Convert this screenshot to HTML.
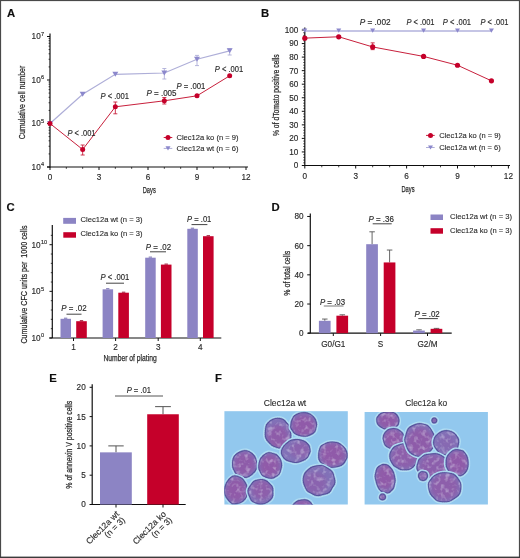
<!DOCTYPE html><html><head><meta charset="utf-8"><style>html,body{margin:0;padding:0;background:#fff;width:520px;height:558px;overflow:hidden}</style></head><body><svg width="520" height="558" viewBox="0 0 520 558" style="display:block">
<defs><filter id="soft" x="0" y="0" width="520" height="558" filterUnits="userSpaceOnUse"><feGaussianBlur stdDeviation="0.3"/></filter></defs>
<g filter="url(#soft)" style='font-family:"Liberation Sans", sans-serif'>
<rect x="0.00" y="0.00" width="520.00" height="558.00" fill="#fff"/>
<rect x="0.00" y="0.00" width="520.00" height="1.10" fill="#4a4a4a"/>
<rect x="0.00" y="0.00" width="1.10" height="558.00" fill="#4a4a4a"/>
<rect x="518.90" y="0.00" width="1.10" height="558.00" fill="#4a4a4a"/>
<rect x="0.00" y="556.60" width="520.00" height="1.40" fill="#3a3a3a"/>
<text x="7.00" y="16.60" font-size="11.3" text-anchor="start" fill="#111" font-weight="bold" stroke="#111" stroke-width="0.15">A</text>
<text x="260.90" y="16.50" font-size="11.3" text-anchor="start" fill="#111" font-weight="bold" stroke="#111" stroke-width="0.15">B</text>
<text x="6.50" y="210.80" font-size="11.3" text-anchor="start" fill="#111" font-weight="bold" stroke="#111" stroke-width="0.15">C</text>
<text x="271.60" y="210.60" font-size="11.3" text-anchor="start" fill="#111" font-weight="bold" stroke="#111" stroke-width="0.15">D</text>
<text x="49.30" y="381.50" font-size="11.3" text-anchor="start" fill="#111" font-weight="bold" stroke="#111" stroke-width="0.15">E</text>
<text x="215.00" y="381.50" font-size="11.3" text-anchor="start" fill="#111" font-weight="bold" stroke="#111" stroke-width="0.15">F</text>
<line x1="50.00" y1="33.50" x2="50.00" y2="167.50" stroke="#111" stroke-width="1.2"/>
<line x1="47.00" y1="167.00" x2="248.00" y2="167.00" stroke="#111" stroke-width="1.2"/>
<line x1="47.00" y1="167.00" x2="50.00" y2="167.00" stroke="#111" stroke-width="1"/>
<text x="40.70" y="169.90" font-size="8.2" text-anchor="end" fill="#2a2a2a" font-weight="normal" stroke="#2a2a2a" stroke-width="0.15">10</text>
<text x="41.10" y="166.40" font-size="5.6" text-anchor="start" fill="#2a2a2a" font-weight="normal" stroke="#2a2a2a" stroke-width="0.15">4</text>
<line x1="48.60" y1="153.91" x2="50.00" y2="153.91" stroke="#111" stroke-width="0.8"/>
<line x1="48.60" y1="146.25" x2="50.00" y2="146.25" stroke="#111" stroke-width="0.8"/>
<line x1="48.60" y1="140.81" x2="50.00" y2="140.81" stroke="#111" stroke-width="0.8"/>
<line x1="48.60" y1="136.59" x2="50.00" y2="136.59" stroke="#111" stroke-width="0.8"/>
<line x1="48.60" y1="133.15" x2="50.00" y2="133.15" stroke="#111" stroke-width="0.8"/>
<line x1="48.60" y1="130.24" x2="50.00" y2="130.24" stroke="#111" stroke-width="0.8"/>
<line x1="48.60" y1="127.72" x2="50.00" y2="127.72" stroke="#111" stroke-width="0.8"/>
<line x1="48.60" y1="125.49" x2="50.00" y2="125.49" stroke="#111" stroke-width="0.8"/>
<line x1="47.00" y1="123.50" x2="50.00" y2="123.50" stroke="#111" stroke-width="1"/>
<text x="40.70" y="126.40" font-size="8.2" text-anchor="end" fill="#2a2a2a" font-weight="normal" stroke="#2a2a2a" stroke-width="0.15">10</text>
<text x="41.10" y="122.90" font-size="5.6" text-anchor="start" fill="#2a2a2a" font-weight="normal" stroke="#2a2a2a" stroke-width="0.15">5</text>
<line x1="48.60" y1="110.41" x2="50.00" y2="110.41" stroke="#111" stroke-width="0.8"/>
<line x1="48.60" y1="102.75" x2="50.00" y2="102.75" stroke="#111" stroke-width="0.8"/>
<line x1="48.60" y1="97.31" x2="50.00" y2="97.31" stroke="#111" stroke-width="0.8"/>
<line x1="48.60" y1="93.09" x2="50.00" y2="93.09" stroke="#111" stroke-width="0.8"/>
<line x1="48.60" y1="89.65" x2="50.00" y2="89.65" stroke="#111" stroke-width="0.8"/>
<line x1="48.60" y1="86.74" x2="50.00" y2="86.74" stroke="#111" stroke-width="0.8"/>
<line x1="48.60" y1="84.22" x2="50.00" y2="84.22" stroke="#111" stroke-width="0.8"/>
<line x1="48.60" y1="81.99" x2="50.00" y2="81.99" stroke="#111" stroke-width="0.8"/>
<line x1="47.00" y1="80.00" x2="50.00" y2="80.00" stroke="#111" stroke-width="1"/>
<text x="40.70" y="82.90" font-size="8.2" text-anchor="end" fill="#2a2a2a" font-weight="normal" stroke="#2a2a2a" stroke-width="0.15">10</text>
<text x="41.10" y="79.40" font-size="5.6" text-anchor="start" fill="#2a2a2a" font-weight="normal" stroke="#2a2a2a" stroke-width="0.15">6</text>
<line x1="48.60" y1="66.91" x2="50.00" y2="66.91" stroke="#111" stroke-width="0.8"/>
<line x1="48.60" y1="59.25" x2="50.00" y2="59.25" stroke="#111" stroke-width="0.8"/>
<line x1="48.60" y1="53.81" x2="50.00" y2="53.81" stroke="#111" stroke-width="0.8"/>
<line x1="48.60" y1="49.59" x2="50.00" y2="49.59" stroke="#111" stroke-width="0.8"/>
<line x1="48.60" y1="46.15" x2="50.00" y2="46.15" stroke="#111" stroke-width="0.8"/>
<line x1="48.60" y1="43.24" x2="50.00" y2="43.24" stroke="#111" stroke-width="0.8"/>
<line x1="48.60" y1="40.72" x2="50.00" y2="40.72" stroke="#111" stroke-width="0.8"/>
<line x1="48.60" y1="38.49" x2="50.00" y2="38.49" stroke="#111" stroke-width="0.8"/>
<line x1="47.00" y1="36.50" x2="50.00" y2="36.50" stroke="#111" stroke-width="1"/>
<text x="40.70" y="39.40" font-size="8.2" text-anchor="end" fill="#2a2a2a" font-weight="normal" stroke="#2a2a2a" stroke-width="0.15">10</text>
<text x="41.10" y="35.90" font-size="5.6" text-anchor="start" fill="#2a2a2a" font-weight="normal" stroke="#2a2a2a" stroke-width="0.15">7</text>
<line x1="50.00" y1="167.00" x2="50.00" y2="170.00" stroke="#111" stroke-width="1"/>
<text x="50.00" y="180.10" font-size="8.2" text-anchor="middle" fill="#2a2a2a" font-weight="normal" stroke="#2a2a2a" stroke-width="0.15">0</text>
<line x1="66.33" y1="167.00" x2="66.33" y2="168.80" stroke="#111" stroke-width="0.8"/>
<line x1="82.67" y1="167.00" x2="82.67" y2="168.80" stroke="#111" stroke-width="0.8"/>
<line x1="99.00" y1="167.00" x2="99.00" y2="170.00" stroke="#111" stroke-width="1"/>
<text x="99.00" y="180.10" font-size="8.2" text-anchor="middle" fill="#2a2a2a" font-weight="normal" stroke="#2a2a2a" stroke-width="0.15">3</text>
<line x1="115.33" y1="167.00" x2="115.33" y2="168.80" stroke="#111" stroke-width="0.8"/>
<line x1="131.67" y1="167.00" x2="131.67" y2="168.80" stroke="#111" stroke-width="0.8"/>
<line x1="148.00" y1="167.00" x2="148.00" y2="170.00" stroke="#111" stroke-width="1"/>
<text x="148.00" y="180.10" font-size="8.2" text-anchor="middle" fill="#2a2a2a" font-weight="normal" stroke="#2a2a2a" stroke-width="0.15">6</text>
<line x1="164.33" y1="167.00" x2="164.33" y2="168.80" stroke="#111" stroke-width="0.8"/>
<line x1="180.67" y1="167.00" x2="180.67" y2="168.80" stroke="#111" stroke-width="0.8"/>
<line x1="197.00" y1="167.00" x2="197.00" y2="170.00" stroke="#111" stroke-width="1"/>
<text x="197.00" y="180.10" font-size="8.2" text-anchor="middle" fill="#2a2a2a" font-weight="normal" stroke="#2a2a2a" stroke-width="0.15">9</text>
<line x1="213.33" y1="167.00" x2="213.33" y2="168.80" stroke="#111" stroke-width="0.8"/>
<line x1="229.67" y1="167.00" x2="229.67" y2="168.80" stroke="#111" stroke-width="0.8"/>
<line x1="246.00" y1="167.00" x2="246.00" y2="170.00" stroke="#111" stroke-width="1"/>
<text x="246.00" y="180.10" font-size="8.2" text-anchor="middle" fill="#2a2a2a" font-weight="normal" stroke="#2a2a2a" stroke-width="0.15">12</text>
<text x="142.75" y="193.30" font-size="9.6" fill="#2a2a2a" font-weight="normal" textLength="13.00" lengthAdjust="spacingAndGlyphs" xml:space="preserve" stroke="#2a2a2a" stroke-width="0.25">Days</text>
<text transform="translate(25.20,139.15) rotate(-90)" x="0" y="0" font-size="9.6" fill="#2a2a2a" font-weight="normal" textLength="73.50" lengthAdjust="spacingAndGlyphs" xml:space="preserve" stroke="#2a2a2a" stroke-width="0.25">Cumulative cell number</text>
<polyline fill="none" stroke="#aeaed8" stroke-width="1.2" points="50.00,123.50 82.67,94.20 115.33,74.30 164.33,73.00 197.00,59.20 229.67,50.80"/>
<path d="M47.00,120.95 L53.00,120.95 L50.00,126.05 Z" fill="#8c88cc"/>
<path d="M79.67,91.65 L85.67,91.65 L82.67,96.75 Z" fill="#8c88cc"/>
<path d="M112.33,71.75 L118.33,71.75 L115.33,76.85 Z" fill="#8c88cc"/>
<line x1="164.33" y1="68.50" x2="164.33" y2="79.00" stroke="#aeaed8" stroke-width="0.9"/>
<line x1="162.33" y1="68.50" x2="166.33" y2="68.50" stroke="#aeaed8" stroke-width="0.9"/>
<line x1="162.33" y1="79.00" x2="166.33" y2="79.00" stroke="#aeaed8" stroke-width="0.9"/>
<path d="M161.33,70.45 L167.33,70.45 L164.33,75.55 Z" fill="#8c88cc"/>
<line x1="197.00" y1="55.40" x2="197.00" y2="65.60" stroke="#aeaed8" stroke-width="0.9"/>
<line x1="195.00" y1="55.40" x2="199.00" y2="55.40" stroke="#aeaed8" stroke-width="0.9"/>
<line x1="195.00" y1="65.60" x2="199.00" y2="65.60" stroke="#aeaed8" stroke-width="0.9"/>
<path d="M194.00,56.65 L200.00,56.65 L197.00,61.75 Z" fill="#8c88cc"/>
<line x1="229.67" y1="48.70" x2="229.67" y2="55.00" stroke="#aeaed8" stroke-width="0.9"/>
<line x1="227.67" y1="48.70" x2="231.67" y2="48.70" stroke="#aeaed8" stroke-width="0.9"/>
<line x1="227.67" y1="55.00" x2="231.67" y2="55.00" stroke="#aeaed8" stroke-width="0.9"/>
<path d="M226.67,48.25 L232.67,48.25 L229.67,53.35 Z" fill="#8c88cc"/>
<polyline fill="none" stroke="#c8203c" stroke-width="1" points="50.00,123.50 82.67,149.50 115.33,106.80 164.33,100.80 197.00,95.80 229.67,75.80"/>
<circle cx="50.00" cy="123.50" r="2.5" fill="#c5002b"/>
<line x1="82.67" y1="145.00" x2="82.67" y2="155.00" stroke="#c8203c" stroke-width="0.9"/>
<line x1="80.67" y1="145.00" x2="84.67" y2="145.00" stroke="#c8203c" stroke-width="0.9"/>
<line x1="80.67" y1="155.00" x2="84.67" y2="155.00" stroke="#c8203c" stroke-width="0.9"/>
<circle cx="82.67" cy="149.50" r="2.5" fill="#c5002b"/>
<line x1="115.33" y1="102.00" x2="115.33" y2="113.80" stroke="#c8203c" stroke-width="0.9"/>
<line x1="113.33" y1="102.00" x2="117.33" y2="102.00" stroke="#c8203c" stroke-width="0.9"/>
<line x1="113.33" y1="113.80" x2="117.33" y2="113.80" stroke="#c8203c" stroke-width="0.9"/>
<circle cx="115.33" cy="106.80" r="2.5" fill="#c5002b"/>
<line x1="164.33" y1="97.50" x2="164.33" y2="104.00" stroke="#c8203c" stroke-width="0.9"/>
<line x1="162.33" y1="97.50" x2="166.33" y2="97.50" stroke="#c8203c" stroke-width="0.9"/>
<line x1="162.33" y1="104.00" x2="166.33" y2="104.00" stroke="#c8203c" stroke-width="0.9"/>
<circle cx="164.33" cy="100.80" r="2.5" fill="#c5002b"/>
<circle cx="197.00" cy="95.80" r="2.5" fill="#c5002b"/>
<circle cx="229.67" cy="75.80" r="2.5" fill="#c5002b"/>
<text x="67.45" y="136.40" font-size="8.4" fill="#2a2a2a" font-weight="normal" textLength="28.10" lengthAdjust="spacingAndGlyphs" xml:space="preserve" stroke="#2a2a2a" stroke-width="0.15"><tspan font-style="italic">P</tspan> &lt; .001</text>
<text x="100.45" y="98.80" font-size="8.4" fill="#2a2a2a" font-weight="normal" textLength="28.60" lengthAdjust="spacingAndGlyphs" xml:space="preserve" stroke="#2a2a2a" stroke-width="0.15"><tspan font-style="italic">P</tspan> &lt; .001</text>
<text x="146.45" y="95.90" font-size="8.4" fill="#2a2a2a" font-weight="normal" textLength="30.10" lengthAdjust="spacingAndGlyphs" xml:space="preserve" stroke="#2a2a2a" stroke-width="0.15"><tspan font-style="italic">P</tspan> = .005</text>
<text x="176.45" y="89.00" font-size="8.4" fill="#2a2a2a" font-weight="normal" textLength="28.90" lengthAdjust="spacingAndGlyphs" xml:space="preserve" stroke="#2a2a2a" stroke-width="0.15"><tspan font-style="italic">P</tspan> = .001</text>
<text x="214.85" y="72.30" font-size="8.4" fill="#2a2a2a" font-weight="normal" textLength="28.40" lengthAdjust="spacingAndGlyphs" xml:space="preserve" stroke="#2a2a2a" stroke-width="0.15"><tspan font-style="italic">P</tspan> &lt; .001</text>
<line x1="163.70" y1="137.50" x2="172.30" y2="137.50" stroke="#c8203c" stroke-width="1"/>
<circle cx="168.00" cy="137.50" r="2.5" fill="#c5002b"/>
<text x="176.45" y="140.00" font-size="8.1" fill="#2a2a2a" font-weight="normal" textLength="62.10" lengthAdjust="spacingAndGlyphs" xml:space="preserve" stroke="#2a2a2a" stroke-width="0.12">Clec12a ko (n = 9)</text>
<line x1="163.70" y1="148.40" x2="172.30" y2="148.40" stroke="#aeaed8" stroke-width="1"/>
<path d="M165.50,146.28 L170.50,146.28 L168.00,150.53 Z" fill="#8c88cc"/>
<text x="176.45" y="151.40" font-size="8.1" fill="#2a2a2a" font-weight="normal" textLength="62.10" lengthAdjust="spacingAndGlyphs" xml:space="preserve" stroke="#2a2a2a" stroke-width="0.12">Clec12a wt (n = 6)</text>
<line x1="304.80" y1="27.50" x2="304.80" y2="165.90" stroke="#111" stroke-width="1.2"/>
<line x1="302.00" y1="165.50" x2="510.00" y2="165.50" stroke="#111" stroke-width="1.2"/>
<line x1="301.80" y1="165.50" x2="304.80" y2="165.50" stroke="#111" stroke-width="1"/>
<text x="298.30" y="168.40" font-size="8.2" text-anchor="end" fill="#2a2a2a" font-weight="normal" stroke="#2a2a2a" stroke-width="0.15">0</text>
<line x1="301.80" y1="151.95" x2="304.80" y2="151.95" stroke="#111" stroke-width="1"/>
<text x="298.30" y="154.85" font-size="8.2" text-anchor="end" fill="#2a2a2a" font-weight="normal" stroke="#2a2a2a" stroke-width="0.15">10</text>
<line x1="301.80" y1="138.40" x2="304.80" y2="138.40" stroke="#111" stroke-width="1"/>
<text x="298.30" y="141.30" font-size="8.2" text-anchor="end" fill="#2a2a2a" font-weight="normal" stroke="#2a2a2a" stroke-width="0.15">20</text>
<line x1="301.80" y1="124.85" x2="304.80" y2="124.85" stroke="#111" stroke-width="1"/>
<text x="298.30" y="127.75" font-size="8.2" text-anchor="end" fill="#2a2a2a" font-weight="normal" stroke="#2a2a2a" stroke-width="0.15">30</text>
<line x1="301.80" y1="111.30" x2="304.80" y2="111.30" stroke="#111" stroke-width="1"/>
<text x="298.30" y="114.20" font-size="8.2" text-anchor="end" fill="#2a2a2a" font-weight="normal" stroke="#2a2a2a" stroke-width="0.15">40</text>
<line x1="301.80" y1="97.75" x2="304.80" y2="97.75" stroke="#111" stroke-width="1"/>
<text x="298.30" y="100.65" font-size="8.2" text-anchor="end" fill="#2a2a2a" font-weight="normal" stroke="#2a2a2a" stroke-width="0.15">50</text>
<line x1="301.80" y1="84.20" x2="304.80" y2="84.20" stroke="#111" stroke-width="1"/>
<text x="298.30" y="87.10" font-size="8.2" text-anchor="end" fill="#2a2a2a" font-weight="normal" stroke="#2a2a2a" stroke-width="0.15">60</text>
<line x1="301.80" y1="70.65" x2="304.80" y2="70.65" stroke="#111" stroke-width="1"/>
<text x="298.30" y="73.55" font-size="8.2" text-anchor="end" fill="#2a2a2a" font-weight="normal" stroke="#2a2a2a" stroke-width="0.15">70</text>
<line x1="301.80" y1="57.10" x2="304.80" y2="57.10" stroke="#111" stroke-width="1"/>
<text x="298.30" y="60.00" font-size="8.2" text-anchor="end" fill="#2a2a2a" font-weight="normal" stroke="#2a2a2a" stroke-width="0.15">80</text>
<line x1="301.80" y1="43.55" x2="304.80" y2="43.55" stroke="#111" stroke-width="1"/>
<text x="298.30" y="46.45" font-size="8.2" text-anchor="end" fill="#2a2a2a" font-weight="normal" stroke="#2a2a2a" stroke-width="0.15">90</text>
<line x1="301.80" y1="30.00" x2="304.80" y2="30.00" stroke="#111" stroke-width="1"/>
<text x="298.30" y="32.90" font-size="8.2" text-anchor="end" fill="#2a2a2a" font-weight="normal" stroke="#2a2a2a" stroke-width="0.15">100</text>
<line x1="303.30" y1="162.79" x2="304.80" y2="162.79" stroke="#111" stroke-width="0.8"/>
<line x1="303.30" y1="160.08" x2="304.80" y2="160.08" stroke="#111" stroke-width="0.8"/>
<line x1="303.30" y1="157.37" x2="304.80" y2="157.37" stroke="#111" stroke-width="0.8"/>
<line x1="303.30" y1="154.66" x2="304.80" y2="154.66" stroke="#111" stroke-width="0.8"/>
<line x1="303.30" y1="149.24" x2="304.80" y2="149.24" stroke="#111" stroke-width="0.8"/>
<line x1="303.30" y1="146.53" x2="304.80" y2="146.53" stroke="#111" stroke-width="0.8"/>
<line x1="303.30" y1="143.82" x2="304.80" y2="143.82" stroke="#111" stroke-width="0.8"/>
<line x1="303.30" y1="141.11" x2="304.80" y2="141.11" stroke="#111" stroke-width="0.8"/>
<line x1="303.30" y1="135.69" x2="304.80" y2="135.69" stroke="#111" stroke-width="0.8"/>
<line x1="303.30" y1="132.98" x2="304.80" y2="132.98" stroke="#111" stroke-width="0.8"/>
<line x1="303.30" y1="130.27" x2="304.80" y2="130.27" stroke="#111" stroke-width="0.8"/>
<line x1="303.30" y1="127.56" x2="304.80" y2="127.56" stroke="#111" stroke-width="0.8"/>
<line x1="303.30" y1="122.14" x2="304.80" y2="122.14" stroke="#111" stroke-width="0.8"/>
<line x1="303.30" y1="119.43" x2="304.80" y2="119.43" stroke="#111" stroke-width="0.8"/>
<line x1="303.30" y1="116.72" x2="304.80" y2="116.72" stroke="#111" stroke-width="0.8"/>
<line x1="303.30" y1="114.01" x2="304.80" y2="114.01" stroke="#111" stroke-width="0.8"/>
<line x1="303.30" y1="108.59" x2="304.80" y2="108.59" stroke="#111" stroke-width="0.8"/>
<line x1="303.30" y1="105.88" x2="304.80" y2="105.88" stroke="#111" stroke-width="0.8"/>
<line x1="303.30" y1="103.17" x2="304.80" y2="103.17" stroke="#111" stroke-width="0.8"/>
<line x1="303.30" y1="100.46" x2="304.80" y2="100.46" stroke="#111" stroke-width="0.8"/>
<line x1="303.30" y1="95.04" x2="304.80" y2="95.04" stroke="#111" stroke-width="0.8"/>
<line x1="303.30" y1="92.33" x2="304.80" y2="92.33" stroke="#111" stroke-width="0.8"/>
<line x1="303.30" y1="89.62" x2="304.80" y2="89.62" stroke="#111" stroke-width="0.8"/>
<line x1="303.30" y1="86.91" x2="304.80" y2="86.91" stroke="#111" stroke-width="0.8"/>
<line x1="303.30" y1="81.49" x2="304.80" y2="81.49" stroke="#111" stroke-width="0.8"/>
<line x1="303.30" y1="78.78" x2="304.80" y2="78.78" stroke="#111" stroke-width="0.8"/>
<line x1="303.30" y1="76.07" x2="304.80" y2="76.07" stroke="#111" stroke-width="0.8"/>
<line x1="303.30" y1="73.36" x2="304.80" y2="73.36" stroke="#111" stroke-width="0.8"/>
<line x1="303.30" y1="67.94" x2="304.80" y2="67.94" stroke="#111" stroke-width="0.8"/>
<line x1="303.30" y1="65.23" x2="304.80" y2="65.23" stroke="#111" stroke-width="0.8"/>
<line x1="303.30" y1="62.52" x2="304.80" y2="62.52" stroke="#111" stroke-width="0.8"/>
<line x1="303.30" y1="59.81" x2="304.80" y2="59.81" stroke="#111" stroke-width="0.8"/>
<line x1="303.30" y1="54.39" x2="304.80" y2="54.39" stroke="#111" stroke-width="0.8"/>
<line x1="303.30" y1="51.68" x2="304.80" y2="51.68" stroke="#111" stroke-width="0.8"/>
<line x1="303.30" y1="48.97" x2="304.80" y2="48.97" stroke="#111" stroke-width="0.8"/>
<line x1="303.30" y1="46.26" x2="304.80" y2="46.26" stroke="#111" stroke-width="0.8"/>
<line x1="303.30" y1="40.84" x2="304.80" y2="40.84" stroke="#111" stroke-width="0.8"/>
<line x1="303.30" y1="38.13" x2="304.80" y2="38.13" stroke="#111" stroke-width="0.8"/>
<line x1="303.30" y1="35.42" x2="304.80" y2="35.42" stroke="#111" stroke-width="0.8"/>
<line x1="303.30" y1="32.71" x2="304.80" y2="32.71" stroke="#111" stroke-width="0.8"/>
<line x1="304.80" y1="165.50" x2="304.80" y2="168.50" stroke="#111" stroke-width="1"/>
<text x="304.80" y="179.10" font-size="8.2" text-anchor="middle" fill="#2a2a2a" font-weight="normal" stroke="#2a2a2a" stroke-width="0.15">0</text>
<line x1="321.77" y1="165.50" x2="321.77" y2="167.30" stroke="#111" stroke-width="0.8"/>
<line x1="338.73" y1="165.50" x2="338.73" y2="167.30" stroke="#111" stroke-width="0.8"/>
<line x1="355.70" y1="165.50" x2="355.70" y2="168.50" stroke="#111" stroke-width="1"/>
<text x="355.70" y="179.10" font-size="8.2" text-anchor="middle" fill="#2a2a2a" font-weight="normal" stroke="#2a2a2a" stroke-width="0.15">3</text>
<line x1="372.67" y1="165.50" x2="372.67" y2="167.30" stroke="#111" stroke-width="0.8"/>
<line x1="389.63" y1="165.50" x2="389.63" y2="167.30" stroke="#111" stroke-width="0.8"/>
<line x1="406.60" y1="165.50" x2="406.60" y2="168.50" stroke="#111" stroke-width="1"/>
<text x="406.60" y="179.10" font-size="8.2" text-anchor="middle" fill="#2a2a2a" font-weight="normal" stroke="#2a2a2a" stroke-width="0.15">6</text>
<line x1="423.57" y1="165.50" x2="423.57" y2="167.30" stroke="#111" stroke-width="0.8"/>
<line x1="440.53" y1="165.50" x2="440.53" y2="167.30" stroke="#111" stroke-width="0.8"/>
<line x1="457.50" y1="165.50" x2="457.50" y2="168.50" stroke="#111" stroke-width="1"/>
<text x="457.50" y="179.10" font-size="8.2" text-anchor="middle" fill="#2a2a2a" font-weight="normal" stroke="#2a2a2a" stroke-width="0.15">9</text>
<line x1="474.47" y1="165.50" x2="474.47" y2="167.30" stroke="#111" stroke-width="0.8"/>
<line x1="491.43" y1="165.50" x2="491.43" y2="167.30" stroke="#111" stroke-width="0.8"/>
<line x1="508.40" y1="165.50" x2="508.40" y2="168.50" stroke="#111" stroke-width="1"/>
<text x="508.40" y="179.10" font-size="8.2" text-anchor="middle" fill="#2a2a2a" font-weight="normal" stroke="#2a2a2a" stroke-width="0.15">12</text>
<text x="401.45" y="192.30" font-size="9.6" fill="#2a2a2a" font-weight="normal" textLength="13.10" lengthAdjust="spacingAndGlyphs" xml:space="preserve" stroke="#2a2a2a" stroke-width="0.25">Days</text>
<text transform="translate(278.80,136.05) rotate(-90)" x="0" y="0" font-size="9.4" fill="#2a2a2a" font-weight="normal" textLength="81.80" lengthAdjust="spacingAndGlyphs" xml:space="preserve" stroke="#2a2a2a" stroke-width="0.25">% of dTomato positive cells</text>
<polyline fill="none" stroke="#b2b2dc" stroke-width="1.6" points="304.80,31 338.73,31 372.67,31 423.57,31 457.50,31 491.43,31"/>
<path d="M302.30,28.48 L307.30,28.48 L304.80,32.73 Z" fill="#8c88cc"/>
<path d="M336.23,28.48 L341.23,28.48 L338.73,32.73 Z" fill="#8c88cc"/>
<path d="M370.17,28.48 L375.17,28.48 L372.67,32.73 Z" fill="#8c88cc"/>
<path d="M421.07,28.48 L426.07,28.48 L423.57,32.73 Z" fill="#8c88cc"/>
<path d="M455.00,28.48 L460.00,28.48 L457.50,32.73 Z" fill="#8c88cc"/>
<path d="M488.93,28.48 L493.93,28.48 L491.43,32.73 Z" fill="#8c88cc"/>
<polyline fill="none" stroke="#c8203c" stroke-width="1" points="304.80,38.13 338.73,36.78 372.67,46.94 423.57,56.42 457.50,65.23 491.43,80.81"/>
<circle cx="304.80" cy="38.13" r="2.6" fill="#c5002b"/>
<circle cx="338.73" cy="36.78" r="2.6" fill="#c5002b"/>
<line x1="372.67" y1="42.87" x2="372.67" y2="49.65" stroke="#c8203c" stroke-width="0.9"/>
<line x1="370.67" y1="42.87" x2="374.67" y2="42.87" stroke="#c8203c" stroke-width="0.9"/>
<line x1="370.67" y1="49.65" x2="374.67" y2="49.65" stroke="#c8203c" stroke-width="0.9"/>
<circle cx="372.67" cy="46.94" r="2.6" fill="#c5002b"/>
<circle cx="423.57" cy="56.42" r="2.6" fill="#c5002b"/>
<circle cx="457.50" cy="65.23" r="2.6" fill="#c5002b"/>
<circle cx="491.43" cy="80.81" r="2.6" fill="#c5002b"/>
<text x="359.65" y="25.40" font-size="8.4" fill="#2a2a2a" font-weight="normal" textLength="30.90" lengthAdjust="spacingAndGlyphs" xml:space="preserve" stroke="#2a2a2a" stroke-width="0.15"><tspan font-style="italic">P</tspan> = .002</text>
<text x="406.45" y="25.40" font-size="8.4" fill="#2a2a2a" font-weight="normal" textLength="28.10" lengthAdjust="spacingAndGlyphs" xml:space="preserve" stroke="#2a2a2a" stroke-width="0.15"><tspan font-style="italic">P</tspan> &lt; .001</text>
<text x="442.75" y="25.40" font-size="8.4" fill="#2a2a2a" font-weight="normal" textLength="28.30" lengthAdjust="spacingAndGlyphs" xml:space="preserve" stroke="#2a2a2a" stroke-width="0.15"><tspan font-style="italic">P</tspan> &lt; .001</text>
<text x="480.45" y="25.40" font-size="8.4" fill="#2a2a2a" font-weight="normal" textLength="28.00" lengthAdjust="spacingAndGlyphs" xml:space="preserve" stroke="#2a2a2a" stroke-width="0.15"><tspan font-style="italic">P</tspan> &lt; .001</text>
<line x1="426.00" y1="135.40" x2="434.70" y2="135.40" stroke="#c8203c" stroke-width="1"/>
<circle cx="430.50" cy="135.40" r="2.5" fill="#c5002b"/>
<text x="439.15" y="138.10" font-size="8.1" fill="#2a2a2a" font-weight="normal" textLength="61.70" lengthAdjust="spacingAndGlyphs" xml:space="preserve" stroke="#2a2a2a" stroke-width="0.12">Clec12a ko (n = 9)</text>
<line x1="426.00" y1="147.50" x2="434.70" y2="147.50" stroke="#aeaed8" stroke-width="1"/>
<path d="M428.00,145.38 L433.00,145.38 L430.50,149.62 Z" fill="#8c88cc"/>
<text x="439.15" y="150.40" font-size="8.1" fill="#2a2a2a" font-weight="normal" textLength="61.70" lengthAdjust="spacingAndGlyphs" xml:space="preserve" stroke="#2a2a2a" stroke-width="0.12">Clec12a wt (n = 6)</text>
<line x1="52.30" y1="225.00" x2="52.30" y2="338.00" stroke="#111" stroke-width="1.2"/>
<line x1="49.20" y1="338.00" x2="221.30" y2="338.00" stroke="#111" stroke-width="1.2"/>
<line x1="49.50" y1="338.00" x2="52.30" y2="338.00" stroke="#111" stroke-width="1"/>
<text x="40.50" y="340.90" font-size="8.2" text-anchor="end" fill="#2a2a2a" font-weight="normal" stroke="#2a2a2a" stroke-width="0.15">10</text>
<text x="40.90" y="337.40" font-size="5.6" text-anchor="start" fill="#2a2a2a" font-weight="normal" stroke="#2a2a2a" stroke-width="0.15">0</text>
<line x1="50.80" y1="328.67" x2="52.30" y2="328.67" stroke="#111" stroke-width="0.8"/>
<line x1="50.80" y1="319.34" x2="52.30" y2="319.34" stroke="#111" stroke-width="0.8"/>
<line x1="50.80" y1="310.01" x2="52.30" y2="310.01" stroke="#111" stroke-width="0.8"/>
<line x1="50.80" y1="300.68" x2="52.30" y2="300.68" stroke="#111" stroke-width="0.8"/>
<line x1="49.50" y1="291.35" x2="52.30" y2="291.35" stroke="#111" stroke-width="1"/>
<text x="40.50" y="294.25" font-size="8.2" text-anchor="end" fill="#2a2a2a" font-weight="normal" stroke="#2a2a2a" stroke-width="0.15">10</text>
<text x="40.90" y="290.75" font-size="5.6" text-anchor="start" fill="#2a2a2a" font-weight="normal" stroke="#2a2a2a" stroke-width="0.15">5</text>
<line x1="50.80" y1="282.02" x2="52.30" y2="282.02" stroke="#111" stroke-width="0.8"/>
<line x1="50.80" y1="272.69" x2="52.30" y2="272.69" stroke="#111" stroke-width="0.8"/>
<line x1="50.80" y1="263.36" x2="52.30" y2="263.36" stroke="#111" stroke-width="0.8"/>
<line x1="50.80" y1="254.03" x2="52.30" y2="254.03" stroke="#111" stroke-width="0.8"/>
<line x1="49.50" y1="244.70" x2="52.30" y2="244.70" stroke="#111" stroke-width="1"/>
<text x="40.50" y="247.60" font-size="8.2" text-anchor="end" fill="#2a2a2a" font-weight="normal" stroke="#2a2a2a" stroke-width="0.15">10</text>
<text x="40.90" y="244.10" font-size="5.6" text-anchor="start" fill="#2a2a2a" font-weight="normal" stroke="#2a2a2a" stroke-width="0.15">10</text>
<line x1="50.80" y1="235.37" x2="52.30" y2="235.37" stroke="#111" stroke-width="0.8"/>
<line x1="73.50" y1="338.00" x2="73.50" y2="341.00" stroke="#111" stroke-width="1"/>
<text x="73.50" y="349.60" font-size="8.2" text-anchor="middle" fill="#2a2a2a" font-weight="normal" stroke="#2a2a2a" stroke-width="0.15">1</text>
<line x1="115.60" y1="338.00" x2="115.60" y2="341.00" stroke="#111" stroke-width="1"/>
<text x="115.60" y="349.60" font-size="8.2" text-anchor="middle" fill="#2a2a2a" font-weight="normal" stroke="#2a2a2a" stroke-width="0.15">2</text>
<line x1="158.20" y1="338.00" x2="158.20" y2="341.00" stroke="#111" stroke-width="1"/>
<text x="158.20" y="349.60" font-size="8.2" text-anchor="middle" fill="#2a2a2a" font-weight="normal" stroke="#2a2a2a" stroke-width="0.15">3</text>
<line x1="200.30" y1="338.00" x2="200.30" y2="341.00" stroke="#111" stroke-width="1"/>
<text x="200.30" y="349.60" font-size="8.2" text-anchor="middle" fill="#2a2a2a" font-weight="normal" stroke="#2a2a2a" stroke-width="0.15">4</text>
<rect x="60.50" y="318.80" width="10.50" height="19.20" fill="#8c84c4"/>
<rect x="76.20" y="321.20" width="10.60" height="16.80" fill="#c5002b"/>
<line x1="64.00" y1="318.20" x2="67.30" y2="318.20" stroke="#6a62a8" stroke-width="0.9"/>
<line x1="79.80" y1="320.70" x2="83.20" y2="320.70" stroke="#900020" stroke-width="0.9"/>
<rect x="102.60" y="289.30" width="10.50" height="48.70" fill="#8c84c4"/>
<rect x="118.30" y="292.70" width="10.60" height="45.30" fill="#c5002b"/>
<line x1="106.10" y1="288.70" x2="109.40" y2="288.70" stroke="#6a62a8" stroke-width="0.9"/>
<line x1="121.90" y1="292.20" x2="125.30" y2="292.20" stroke="#900020" stroke-width="0.9"/>
<rect x="145.20" y="257.70" width="10.50" height="80.30" fill="#8c84c4"/>
<rect x="160.90" y="264.60" width="10.60" height="73.40" fill="#c5002b"/>
<line x1="148.70" y1="257.10" x2="152.00" y2="257.10" stroke="#6a62a8" stroke-width="0.9"/>
<line x1="164.50" y1="264.10" x2="167.90" y2="264.10" stroke="#900020" stroke-width="0.9"/>
<rect x="187.30" y="228.80" width="10.50" height="109.20" fill="#8c84c4"/>
<rect x="203.00" y="236.20" width="10.60" height="101.80" fill="#c5002b"/>
<line x1="190.80" y1="228.20" x2="194.10" y2="228.20" stroke="#6a62a8" stroke-width="0.9"/>
<line x1="206.60" y1="235.70" x2="210.00" y2="235.70" stroke="#900020" stroke-width="0.9"/>
<text x="61.25" y="310.70" font-size="8.4" fill="#2a2a2a" font-weight="normal" textLength="25.30" lengthAdjust="spacingAndGlyphs" xml:space="preserve" stroke="#2a2a2a" stroke-width="0.15"><tspan font-style="italic">P</tspan> = .02</text>
<line x1="66.50" y1="314.20" x2="81.50" y2="314.20" stroke="#444" stroke-width="1"/>
<text x="100.45" y="280.30" font-size="8.4" fill="#2a2a2a" font-weight="normal" textLength="28.80" lengthAdjust="spacingAndGlyphs" xml:space="preserve" stroke="#2a2a2a" stroke-width="0.15"><tspan font-style="italic">P</tspan> &lt; .001</text>
<line x1="106.00" y1="283.20" x2="124.00" y2="283.20" stroke="#444" stroke-width="1"/>
<text x="145.85" y="249.50" font-size="8.4" fill="#2a2a2a" font-weight="normal" textLength="25.20" lengthAdjust="spacingAndGlyphs" xml:space="preserve" stroke="#2a2a2a" stroke-width="0.15"><tspan font-style="italic">P</tspan> = .02</text>
<line x1="150.00" y1="251.80" x2="166.00" y2="251.80" stroke="#444" stroke-width="1"/>
<text x="187.05" y="221.80" font-size="8.4" fill="#2a2a2a" font-weight="normal" textLength="24.30" lengthAdjust="spacingAndGlyphs" xml:space="preserve" stroke="#2a2a2a" stroke-width="0.15"><tspan font-style="italic">P</tspan> = .01</text>
<line x1="191.50" y1="224.60" x2="207.40" y2="224.60" stroke="#444" stroke-width="1"/>
<rect x="63.20" y="217.90" width="12.80" height="5.90" fill="#8c84c4"/>
<rect x="63.30" y="232.20" width="12.70" height="5.50" fill="#c5002b"/>
<text x="80.45" y="222.40" font-size="8.1" fill="#2a2a2a" font-weight="normal" textLength="62.10" lengthAdjust="spacingAndGlyphs" xml:space="preserve" stroke="#2a2a2a" stroke-width="0.12">Clec12a wt (n = 3)</text>
<text x="80.45" y="236.00" font-size="8.1" fill="#2a2a2a" font-weight="normal" textLength="62.10" lengthAdjust="spacingAndGlyphs" xml:space="preserve" stroke="#2a2a2a" stroke-width="0.12">Clec12a ko (n = 3)</text>
<text x="103.45" y="360.60" font-size="9.4" fill="#2a2a2a" font-weight="normal" textLength="53.30" lengthAdjust="spacingAndGlyphs" xml:space="preserve" stroke="#2a2a2a" stroke-width="0.25">Number of plating</text>
<text transform="translate(27.00,343.55) rotate(-90)" x="0" y="0" font-size="9.4" fill="#2a2a2a" font-weight="normal" textLength="118.10" lengthAdjust="spacingAndGlyphs" xml:space="preserve" stroke="#2a2a2a" stroke-width="0.25">Cumulative CFC units per  1000 cells</text>
<line x1="310.30" y1="213.40" x2="310.30" y2="333.20" stroke="#111" stroke-width="1.2"/>
<line x1="308.00" y1="333.20" x2="451.70" y2="333.20" stroke="#111" stroke-width="1.2"/>
<line x1="307.20" y1="333.20" x2="310.30" y2="333.20" stroke="#111" stroke-width="1"/>
<text x="303.60" y="336.10" font-size="8.2" text-anchor="end" fill="#2a2a2a" font-weight="normal" stroke="#2a2a2a" stroke-width="0.15">0</text>
<line x1="307.20" y1="304.02" x2="310.30" y2="304.02" stroke="#111" stroke-width="1"/>
<text x="303.60" y="306.92" font-size="8.2" text-anchor="end" fill="#2a2a2a" font-weight="normal" stroke="#2a2a2a" stroke-width="0.15">20</text>
<line x1="307.20" y1="274.84" x2="310.30" y2="274.84" stroke="#111" stroke-width="1"/>
<text x="303.60" y="277.74" font-size="8.2" text-anchor="end" fill="#2a2a2a" font-weight="normal" stroke="#2a2a2a" stroke-width="0.15">40</text>
<line x1="307.20" y1="245.66" x2="310.30" y2="245.66" stroke="#111" stroke-width="1"/>
<text x="303.60" y="248.56" font-size="8.2" text-anchor="end" fill="#2a2a2a" font-weight="normal" stroke="#2a2a2a" stroke-width="0.15">60</text>
<line x1="307.20" y1="216.48" x2="310.30" y2="216.48" stroke="#111" stroke-width="1"/>
<text x="303.60" y="219.38" font-size="8.2" text-anchor="end" fill="#2a2a2a" font-weight="normal" stroke="#2a2a2a" stroke-width="0.15">80</text>
<line x1="333.30" y1="333.20" x2="333.30" y2="336.00" stroke="#111" stroke-width="1"/>
<text x="333.30" y="346.70" font-size="8.2" text-anchor="middle" fill="#2a2a2a" font-weight="normal" stroke="#2a2a2a" stroke-width="0.15">G0/G1</text>
<line x1="324.80" y1="319.05" x2="324.80" y2="320.80" stroke="#555" stroke-width="0.9"/>
<line x1="322.05" y1="319.05" x2="327.55" y2="319.05" stroke="#555" stroke-width="0.9"/>
<line x1="342.30" y1="314.82" x2="342.30" y2="315.69" stroke="#555" stroke-width="0.9"/>
<line x1="339.55" y1="314.82" x2="345.05" y2="314.82" stroke="#555" stroke-width="0.9"/>
<rect x="318.90" y="320.80" width="11.70" height="12.40" fill="#8c84c4"/>
<rect x="336.40" y="315.69" width="11.70" height="17.51" fill="#c5002b"/>
<line x1="380.60" y1="333.20" x2="380.60" y2="336.00" stroke="#111" stroke-width="1"/>
<text x="380.60" y="346.70" font-size="8.2" text-anchor="middle" fill="#2a2a2a" font-weight="normal" stroke="#2a2a2a" stroke-width="0.15">S</text>
<line x1="372.10" y1="231.80" x2="372.10" y2="244.20" stroke="#555" stroke-width="0.9"/>
<line x1="369.35" y1="231.80" x2="374.85" y2="231.80" stroke="#555" stroke-width="0.9"/>
<line x1="389.60" y1="250.04" x2="389.60" y2="262.44" stroke="#555" stroke-width="0.9"/>
<line x1="386.85" y1="250.04" x2="392.35" y2="250.04" stroke="#555" stroke-width="0.9"/>
<rect x="366.20" y="244.20" width="11.70" height="89.00" fill="#8c84c4"/>
<rect x="383.70" y="262.44" width="11.70" height="70.76" fill="#c5002b"/>
<line x1="427.50" y1="333.20" x2="427.50" y2="336.00" stroke="#111" stroke-width="1"/>
<text x="427.50" y="346.70" font-size="8.2" text-anchor="middle" fill="#2a2a2a" font-weight="normal" stroke="#2a2a2a" stroke-width="0.15">G2/M</text>
<line x1="419.00" y1="329.84" x2="419.00" y2="330.57" stroke="#555" stroke-width="0.9"/>
<line x1="416.25" y1="329.84" x2="421.75" y2="329.84" stroke="#555" stroke-width="0.9"/>
<line x1="436.50" y1="328.39" x2="436.50" y2="328.82" stroke="#555" stroke-width="0.9"/>
<line x1="433.75" y1="328.39" x2="439.25" y2="328.39" stroke="#555" stroke-width="0.9"/>
<rect x="413.10" y="330.57" width="11.70" height="2.63" fill="#8c84c4"/>
<rect x="430.60" y="328.82" width="11.70" height="4.38" fill="#c5002b"/>
<text x="319.95" y="305.30" font-size="8.4" fill="#2a2a2a" font-weight="normal" textLength="25.10" lengthAdjust="spacingAndGlyphs" xml:space="preserve" stroke="#2a2a2a" stroke-width="0.15"><tspan font-style="italic">P</tspan> = .03</text>
<line x1="323.80" y1="306.00" x2="343.50" y2="306.00" stroke="#666" stroke-width="0.9"/>
<text x="368.45" y="221.60" font-size="8.4" fill="#2a2a2a" font-weight="normal" textLength="25.50" lengthAdjust="spacingAndGlyphs" xml:space="preserve" stroke="#2a2a2a" stroke-width="0.15"><tspan font-style="italic">P</tspan> = .36</text>
<line x1="372.70" y1="223.80" x2="391.70" y2="223.80" stroke="#444" stroke-width="1"/>
<text x="414.45" y="316.60" font-size="8.4" fill="#2a2a2a" font-weight="normal" textLength="25.30" lengthAdjust="spacingAndGlyphs" xml:space="preserve" stroke="#2a2a2a" stroke-width="0.15"><tspan font-style="italic">P</tspan> = .02</text>
<line x1="418.30" y1="318.60" x2="437.90" y2="318.60" stroke="#444" stroke-width="1"/>
<rect x="430.50" y="214.50" width="12.50" height="5.50" fill="#8c84c4"/>
<rect x="430.50" y="228.20" width="12.50" height="5.50" fill="#c5002b"/>
<text x="449.95" y="219.40" font-size="8.1" fill="#2a2a2a" font-weight="normal" textLength="62.10" lengthAdjust="spacingAndGlyphs" xml:space="preserve" stroke="#2a2a2a" stroke-width="0.12">Clec12a wt (n = 3)</text>
<text x="449.95" y="233.10" font-size="8.1" fill="#2a2a2a" font-weight="normal" textLength="62.10" lengthAdjust="spacingAndGlyphs" xml:space="preserve" stroke="#2a2a2a" stroke-width="0.12">Clec12a ko (n = 3)</text>
<text transform="translate(290.20,295.65) rotate(-90)" x="0" y="0" font-size="9.8" fill="#2a2a2a" font-weight="normal" textLength="45.00" lengthAdjust="spacingAndGlyphs" xml:space="preserve" stroke="#2a2a2a" stroke-width="0.25">% of total cells</text>
<line x1="92.20" y1="384.30" x2="92.20" y2="504.50" stroke="#111" stroke-width="1.2"/>
<line x1="89.80" y1="504.50" x2="185.70" y2="504.50" stroke="#111" stroke-width="1.2"/>
<line x1="89.60" y1="504.50" x2="92.20" y2="504.50" stroke="#111" stroke-width="1"/>
<text x="85.70" y="507.40" font-size="8.2" text-anchor="end" fill="#2a2a2a" font-weight="normal" stroke="#2a2a2a" stroke-width="0.15">0</text>
<line x1="89.60" y1="475.20" x2="92.20" y2="475.20" stroke="#111" stroke-width="1"/>
<text x="85.70" y="478.10" font-size="8.2" text-anchor="end" fill="#2a2a2a" font-weight="normal" stroke="#2a2a2a" stroke-width="0.15">5</text>
<line x1="89.60" y1="445.90" x2="92.20" y2="445.90" stroke="#111" stroke-width="1"/>
<text x="85.70" y="448.80" font-size="8.2" text-anchor="end" fill="#2a2a2a" font-weight="normal" stroke="#2a2a2a" stroke-width="0.15">10</text>
<line x1="89.60" y1="416.60" x2="92.20" y2="416.60" stroke="#111" stroke-width="1"/>
<text x="85.70" y="419.50" font-size="8.2" text-anchor="end" fill="#2a2a2a" font-weight="normal" stroke="#2a2a2a" stroke-width="0.15">15</text>
<line x1="89.60" y1="387.30" x2="92.20" y2="387.30" stroke="#111" stroke-width="1"/>
<text x="85.70" y="390.20" font-size="8.2" text-anchor="end" fill="#2a2a2a" font-weight="normal" stroke="#2a2a2a" stroke-width="0.15">20</text>
<line x1="116.00" y1="445.90" x2="116.00" y2="452.35" stroke="#555" stroke-width="1"/>
<line x1="108.30" y1="445.90" x2="123.70" y2="445.90" stroke="#555" stroke-width="1"/>
<line x1="163.00" y1="406.64" x2="163.00" y2="414.26" stroke="#555" stroke-width="1"/>
<line x1="155.10" y1="406.64" x2="170.90" y2="406.64" stroke="#555" stroke-width="1"/>
<rect x="100.00" y="452.35" width="31.80" height="52.15" fill="#8c84c4"/>
<rect x="147.20" y="414.26" width="31.60" height="90.24" fill="#c5002b"/>
<line x1="116.00" y1="504.50" x2="116.00" y2="507.50" stroke="#111" stroke-width="1"/>
<line x1="163.00" y1="504.50" x2="163.00" y2="507.50" stroke="#111" stroke-width="1"/>
<text x="126.65" y="393.30" font-size="8.4" fill="#2a2a2a" font-weight="normal" textLength="24.40" lengthAdjust="spacingAndGlyphs" xml:space="preserve" stroke="#2a2a2a" stroke-width="0.15"><tspan font-style="italic">P</tspan> = .01</text>
<line x1="115.00" y1="396.00" x2="163.00" y2="396.00" stroke="#555" stroke-width="1"/>
<text transform="translate(72.00,488.65) rotate(-90)" x="0" y="0" font-size="9.4" fill="#2a2a2a" font-weight="normal" textLength="87.80" lengthAdjust="spacingAndGlyphs" xml:space="preserve" stroke="#2a2a2a" stroke-width="0.25">% of annexin V positive cells</text>
<g transform="translate(115.50,510.50) rotate(-45)">
<text x="0.00" y="5.80" font-size="8.6" text-anchor="end" fill="#2a2a2a" font-weight="normal" stroke="#2a2a2a" stroke-width="0.15">Clec12a wt</text>
<text x="0.00" y="14.20" font-size="8.6" text-anchor="end" fill="#2a2a2a" font-weight="normal" stroke="#2a2a2a" stroke-width="0.15">(n = 3)</text>
</g>
<g transform="translate(162.50,510.50) rotate(-45)">
<text x="0.00" y="5.80" font-size="8.6" text-anchor="end" fill="#2a2a2a" font-weight="normal" stroke="#2a2a2a" stroke-width="0.15">Clec12a ko</text>
<text x="0.00" y="14.20" font-size="8.6" text-anchor="end" fill="#2a2a2a" font-weight="normal" stroke="#2a2a2a" stroke-width="0.15">(n = 3)</text>
</g>
<text x="263.75" y="406.00" font-size="9.0" fill="#2a2a2a" font-weight="normal" textLength="42.50" lengthAdjust="spacingAndGlyphs" xml:space="preserve" stroke="#2a2a2a" stroke-width="0.12">Clec12a wt</text>
<text x="405.25" y="406.00" font-size="9.0" fill="#2a2a2a" font-weight="normal" textLength="41.80" lengthAdjust="spacingAndGlyphs" xml:space="preserve" stroke="#2a2a2a" stroke-width="0.12">Clec12a ko</text>
<rect x="224.40" y="411.20" width="123.40" height="93.30" fill="#92c8ee"/>
<rect x="364.60" y="412.00" width="123.30" height="92.50" fill="#92c8ee"/>
<defs>
<clipPath id="clL"><rect x="224.4" y="411.2" width="123.4" height="93.3"/></clipPath>
<clipPath id="clR"><rect x="364.6" y="412" width="123.3" height="92.5"/></clipPath>
<filter id="bl1" x="-30%" y="-30%" width="160%" height="160%"><feGaussianBlur stdDeviation="2"/></filter>
<filter id="bl0" x="-20%" y="-20%" width="140%" height="140%"><feGaussianBlur stdDeviation="0.45"/></filter>
<filter id="mot" x="0" y="0" width="100%" height="100%" filterUnits="userSpaceOnUse"><feTurbulence type="fractalNoise" baseFrequency="0.22" numOctaves="2" seed="5" result="n"/><feColorMatrix in="n" type="matrix" values="0 0 0 0 0.80  0 0 0 0 0.82  0 0 0 0 0.92  0 0 0 3.2 -1.55"/></filter>
</defs>
<g clip-path="url(#clL)">
<clipPath id="c100"><path d="M290.59,427.38 Q290.95,429.53 291.43,431.56 Q291.91,433.60 291.92,435.72 Q291.94,437.83 291.26,439.76 Q290.59,441.68 289.54,443.33 Q288.49,444.98 286.97,446.05 Q285.46,447.11 283.88,448.07 Q282.29,449.02 280.45,449.05 Q278.60,449.08 276.83,448.45 Q275.07,447.82 273.32,447.18 Q271.56,446.54 270.23,445.03 Q268.89,443.52 267.35,442.14 Q265.80,440.76 265.00,438.73 Q264.19,436.70 264.21,434.55 Q264.22,432.41 264.40,430.37 Q264.57,428.34 264.96,426.31 Q265.34,424.28 266.65,422.90 Q267.95,421.51 269.32,420.34 Q270.69,419.17 272.30,418.46 Q273.91,417.74 275.66,417.45 Q277.41,417.16 279.24,417.33 Q281.06,417.51 282.88,418.21 Q284.70,418.91 285.96,420.62 Q287.23,422.34 288.72,423.78 Q290.22,425.23 290.59,427.38Z"/></clipPath>
<path d="M291.60,426.95 Q291.98,429.25 292.50,431.43 Q293.01,433.60 293.01,435.86 Q293.02,438.12 292.29,440.18 Q291.56,442.24 290.42,444.01 Q289.28,445.78 287.64,446.92 Q286.01,448.06 284.30,449.09 Q282.59,450.11 280.59,450.15 Q278.60,450.18 276.70,449.52 Q274.79,448.85 272.90,448.17 Q271.01,447.49 269.58,445.88 Q268.14,444.27 266.48,442.80 Q264.82,441.33 263.95,439.16 Q263.09,436.99 263.12,434.70 Q263.14,432.41 263.33,430.23 Q263.52,428.06 263.95,425.89 Q264.37,423.72 265.78,422.23 Q267.19,420.75 268.67,419.50 Q270.16,418.25 271.90,417.48 Q273.63,416.71 275.52,416.39 Q277.41,416.07 279.38,416.25 Q281.35,416.43 283.31,417.18 Q285.27,417.92 286.63,419.75 Q287.99,421.58 289.60,423.12 Q291.21,424.66 291.60,426.95Z" fill="#b2e0f4" filter="url(#bl0)"/>
<g clip-path="url(#c100)">
<path d="M290.59,427.38 Q290.95,429.53 291.43,431.56 Q291.91,433.60 291.92,435.72 Q291.94,437.83 291.26,439.76 Q290.59,441.68 289.54,443.33 Q288.49,444.98 286.97,446.05 Q285.46,447.11 283.88,448.07 Q282.29,449.02 280.45,449.05 Q278.60,449.08 276.83,448.45 Q275.07,447.82 273.32,447.18 Q271.56,446.54 270.23,445.03 Q268.89,443.52 267.35,442.14 Q265.80,440.76 265.00,438.73 Q264.19,436.70 264.21,434.55 Q264.22,432.41 264.40,430.37 Q264.57,428.34 264.96,426.31 Q265.34,424.28 266.65,422.90 Q267.95,421.51 269.32,420.34 Q270.69,419.17 272.30,418.46 Q273.91,417.74 275.66,417.45 Q277.41,417.16 279.24,417.33 Q281.06,417.51 282.88,418.21 Q284.70,418.91 285.96,420.62 Q287.23,422.34 288.72,423.78 Q290.22,425.23 290.59,427.38Z" fill="#8272b8"/>
<ellipse cx="278.00" cy="437.00" rx="10.35" ry="12.15" fill="#9a4c9e" opacity="0.54" filter="url(#bl1)"/>
<rect x="261.2" y="413.8" width="33.6" height="38.4" fill="#000" filter="url(#mot)" opacity="0.38"/>
<path d="M290.04,427.61 Q290.39,429.68 290.85,431.64 Q291.31,433.60 291.33,435.64 Q291.34,437.67 290.70,439.52 Q290.07,441.37 289.06,442.96 Q288.05,444.55 286.61,445.57 Q285.16,446.60 283.65,447.51 Q282.13,448.43 280.37,448.45 Q278.60,448.48 276.91,447.87 Q275.22,447.26 273.54,446.64 Q271.86,446.02 270.58,444.57 Q269.30,443.11 267.82,441.78 Q266.34,440.45 265.57,438.49 Q264.79,436.54 264.80,434.47 Q264.82,432.41 264.98,430.45 Q265.14,428.49 265.51,426.54 Q265.87,424.58 267.12,423.26 Q268.36,421.93 269.67,420.80 Q270.99,419.68 272.52,418.99 Q274.06,418.31 275.74,418.03 Q277.41,417.75 279.16,417.92 Q280.91,418.09 282.65,418.77 Q284.39,419.44 285.60,421.10 Q286.81,422.75 288.25,424.14 Q289.68,425.54 290.04,427.61Z" fill="none" stroke="#52509a" stroke-width="2" opacity="0.9" filter="url(#bl0)"/>
</g>
<path d="M290.59,427.38 Q290.95,429.53 291.43,431.56 Q291.91,433.60 291.92,435.72 Q291.94,437.83 291.26,439.76 Q290.59,441.68 289.54,443.33 Q288.49,444.98 286.97,446.05 Q285.46,447.11 283.88,448.07 Q282.29,449.02 280.45,449.05 Q278.60,449.08 276.83,448.45 Q275.07,447.82 273.32,447.18 Q271.56,446.54 270.23,445.03 Q268.89,443.52 267.35,442.14 Q265.80,440.76 265.00,438.73 Q264.19,436.70 264.21,434.55 Q264.22,432.41 264.40,430.37 Q264.57,428.34 264.96,426.31 Q265.34,424.28 266.65,422.90 Q267.95,421.51 269.32,420.34 Q270.69,419.17 272.30,418.46 Q273.91,417.74 275.66,417.45 Q277.41,417.16 279.24,417.33 Q281.06,417.51 282.88,418.21 Q284.70,418.91 285.96,420.62 Q287.23,422.34 288.72,423.78 Q290.22,425.23 290.59,427.38Z" fill="none" stroke="#b2e0f4" stroke-width="0.8"/>
<clipPath id="c101"><path d="M317.50,422.83 Q317.89,424.50 317.44,426.15 Q316.98,427.81 316.67,429.55 Q316.36,431.29 315.17,432.69 Q313.98,434.08 312.33,434.95 Q310.68,435.82 309.00,436.57 Q307.32,437.32 305.46,437.31 Q303.60,437.30 301.80,437.09 Q300.01,436.87 298.31,436.26 Q296.62,435.65 295.01,434.78 Q293.40,433.91 292.49,432.40 Q291.59,430.90 290.48,429.46 Q289.37,428.02 289.63,426.26 Q289.89,424.50 290.05,422.85 Q290.22,421.19 290.96,419.68 Q291.71,418.17 292.52,416.60 Q293.34,415.04 294.96,414.16 Q296.58,413.28 298.25,412.58 Q299.93,411.88 301.77,411.73 Q303.60,411.58 305.46,411.64 Q307.32,411.71 308.98,412.47 Q310.65,413.24 312.03,414.35 Q313.41,415.45 314.62,416.72 Q315.83,417.99 316.47,419.57 Q317.10,421.16 317.50,422.83Z"/></clipPath>
<path d="M318.57,422.69 Q319.00,424.50 318.51,426.29 Q318.02,428.09 317.68,429.97 Q317.34,431.86 316.06,433.37 Q314.79,434.88 313.01,435.82 Q311.23,436.77 309.42,437.58 Q307.61,438.40 305.61,438.39 Q303.60,438.38 301.66,438.14 Q299.73,437.91 297.90,437.25 Q296.08,436.59 294.35,435.64 Q292.61,434.70 291.63,433.07 Q290.65,431.44 289.46,429.88 Q288.26,428.31 288.55,426.41 Q288.83,424.50 289.00,422.71 Q289.18,420.91 289.98,419.27 Q290.79,417.63 291.67,415.94 Q292.55,414.24 294.29,413.29 Q296.03,412.33 297.84,411.57 Q299.65,410.81 301.62,410.66 Q303.60,410.50 305.60,410.57 Q307.60,410.63 309.40,411.47 Q311.19,412.30 312.68,413.50 Q314.17,414.69 315.47,416.07 Q316.78,417.44 317.46,419.16 Q318.15,420.88 318.57,422.69Z" fill="#b2e0f4" filter="url(#bl0)"/>
<g clip-path="url(#c101)">
<path d="M317.50,422.83 Q317.89,424.50 317.44,426.15 Q316.98,427.81 316.67,429.55 Q316.36,431.29 315.17,432.69 Q313.98,434.08 312.33,434.95 Q310.68,435.82 309.00,436.57 Q307.32,437.32 305.46,437.31 Q303.60,437.30 301.80,437.09 Q300.01,436.87 298.31,436.26 Q296.62,435.65 295.01,434.78 Q293.40,433.91 292.49,432.40 Q291.59,430.90 290.48,429.46 Q289.37,428.02 289.63,426.26 Q289.89,424.50 290.05,422.85 Q290.22,421.19 290.96,419.68 Q291.71,418.17 292.52,416.60 Q293.34,415.04 294.96,414.16 Q296.58,413.28 298.25,412.58 Q299.93,411.88 301.77,411.73 Q303.60,411.58 305.46,411.64 Q307.32,411.71 308.98,412.47 Q310.65,413.24 312.03,414.35 Q313.41,415.45 314.62,416.72 Q315.83,417.99 316.47,419.57 Q317.10,421.16 317.50,422.83Z" fill="#8272b8"/>
<ellipse cx="303.60" cy="425.50" rx="11.36" ry="10.48" fill="#9a4c9e" opacity="0.60" filter="url(#bl1)"/>
<rect x="286.4" y="408.4" width="34.4" height="32.2" fill="#000" filter="url(#mot)" opacity="0.38"/>
<path d="M316.91,422.91 Q317.29,424.50 316.85,426.08 Q316.42,427.66 316.12,429.32 Q315.82,430.98 314.68,432.31 Q313.54,433.64 311.96,434.47 Q310.38,435.30 308.77,436.01 Q307.17,436.73 305.38,436.72 Q303.60,436.71 301.88,436.51 Q300.16,436.31 298.54,435.72 Q296.92,435.14 295.38,434.31 Q293.84,433.47 292.96,432.04 Q292.09,430.61 291.03,429.23 Q289.97,427.86 290.22,426.18 Q290.47,424.50 290.63,422.92 Q290.79,421.34 291.50,419.90 Q292.21,418.46 292.99,416.96 Q293.78,415.47 295.32,414.63 Q296.87,413.79 298.48,413.12 Q300.09,412.45 301.84,412.31 Q303.60,412.17 305.38,412.23 Q307.16,412.29 308.75,413.03 Q310.35,413.76 311.67,414.81 Q312.99,415.87 314.15,417.08 Q315.31,418.28 315.92,419.80 Q316.53,421.32 316.91,422.91Z" fill="none" stroke="#52509a" stroke-width="2" opacity="0.9" filter="url(#bl0)"/>
</g>
<path d="M317.50,422.83 Q317.89,424.50 317.44,426.15 Q316.98,427.81 316.67,429.55 Q316.36,431.29 315.17,432.69 Q313.98,434.08 312.33,434.95 Q310.68,435.82 309.00,436.57 Q307.32,437.32 305.46,437.31 Q303.60,437.30 301.80,437.09 Q300.01,436.87 298.31,436.26 Q296.62,435.65 295.01,434.78 Q293.40,433.91 292.49,432.40 Q291.59,430.90 290.48,429.46 Q289.37,428.02 289.63,426.26 Q289.89,424.50 290.05,422.85 Q290.22,421.19 290.96,419.68 Q291.71,418.17 292.52,416.60 Q293.34,415.04 294.96,414.16 Q296.58,413.28 298.25,412.58 Q299.93,411.88 301.77,411.73 Q303.60,411.58 305.46,411.64 Q307.32,411.71 308.98,412.47 Q310.65,413.24 312.03,414.35 Q313.41,415.45 314.62,416.72 Q315.83,417.99 316.47,419.57 Q317.10,421.16 317.50,422.83Z" fill="none" stroke="#b2e0f4" stroke-width="0.8"/>
<clipPath id="c102"><path d="M310.53,446.79 Q310.83,448.38 311.14,449.99 Q311.45,451.59 310.69,453.16 Q309.93,454.72 309.23,456.32 Q308.54,457.92 307.07,459.16 Q305.59,460.40 303.79,461.24 Q301.99,462.09 300.09,462.76 Q298.19,463.43 296.16,463.54 Q294.14,463.65 292.30,463.11 Q290.46,462.57 288.59,462.10 Q286.72,461.63 285.23,460.60 Q283.75,459.57 282.77,458.18 Q281.80,456.79 281.03,455.28 Q280.27,453.77 280.34,452.09 Q280.41,450.40 281.12,448.81 Q281.84,447.21 282.89,445.78 Q283.94,444.35 285.36,443.15 Q286.77,441.96 288.29,440.75 Q289.80,439.53 291.80,439.02 Q293.80,438.50 295.83,438.40 Q297.87,438.30 299.80,438.68 Q301.73,439.05 303.49,439.72 Q305.26,440.39 306.56,441.55 Q307.86,442.70 309.04,443.95 Q310.22,445.20 310.53,446.79Z"/></clipPath>
<path d="M311.55,446.47 Q311.89,448.20 312.22,449.94 Q312.55,451.69 311.74,453.39 Q310.93,455.09 310.19,456.82 Q309.45,458.56 307.88,459.90 Q306.31,461.25 304.38,462.16 Q302.45,463.08 300.42,463.80 Q298.38,464.52 296.21,464.64 Q294.04,464.76 292.07,464.16 Q290.10,463.56 288.09,463.05 Q286.09,462.54 284.49,461.41 Q282.90,460.28 281.85,458.77 Q280.80,457.26 279.98,455.62 Q279.16,453.97 279.22,452.14 Q279.29,450.31 280.05,448.57 Q280.81,446.84 281.94,445.29 Q283.06,443.73 284.57,442.44 Q286.08,441.14 287.71,439.83 Q289.33,438.51 291.46,437.95 Q293.60,437.40 295.78,437.30 Q297.97,437.20 300.03,437.61 Q302.10,438.02 304.00,438.76 Q305.89,439.49 307.29,440.75 Q308.69,442.01 309.95,443.37 Q311.22,444.73 311.55,446.47Z" fill="#b2e0f4" filter="url(#bl0)"/>
<g clip-path="url(#c102)">
<path d="M310.53,446.79 Q310.83,448.38 311.14,449.99 Q311.45,451.59 310.69,453.16 Q309.93,454.72 309.23,456.32 Q308.54,457.92 307.07,459.16 Q305.59,460.40 303.79,461.24 Q301.99,462.09 300.09,462.76 Q298.19,463.43 296.16,463.54 Q294.14,463.65 292.30,463.11 Q290.46,462.57 288.59,462.10 Q286.72,461.63 285.23,460.60 Q283.75,459.57 282.77,458.18 Q281.80,456.79 281.03,455.28 Q280.27,453.77 280.34,452.09 Q280.41,450.40 281.12,448.81 Q281.84,447.21 282.89,445.78 Q283.94,444.35 285.36,443.15 Q286.77,441.96 288.29,440.75 Q289.80,439.53 291.80,439.02 Q293.80,438.50 295.83,438.40 Q297.87,438.30 299.80,438.68 Q301.73,439.05 303.49,439.72 Q305.26,440.39 306.56,441.55 Q307.86,442.70 309.04,443.95 Q310.22,445.20 310.53,446.79Z" fill="#8272b8"/>
<ellipse cx="300.00" cy="450.00" rx="10.08" ry="8.12" fill="#9a4c9e" opacity="0.36" filter="url(#bl1)"/>
<rect x="277.5" y="435.5" width="37.0" height="31.0" fill="#000" filter="url(#mot)" opacity="0.38"/>
<path d="M309.97,446.97 Q310.26,448.49 310.55,450.01 Q310.84,451.54 310.11,453.03 Q309.38,454.52 308.71,456.05 Q308.04,457.57 306.62,458.75 Q305.21,459.93 303.47,460.74 Q301.74,461.55 299.91,462.19 Q298.09,462.83 296.14,462.94 Q294.19,463.05 292.42,462.54 Q290.66,462.02 288.86,461.58 Q287.06,461.14 285.64,460.16 Q284.21,459.18 283.28,457.86 Q282.34,456.54 281.61,455.10 Q280.88,453.67 280.95,452.06 Q281.01,450.46 281.70,448.94 Q282.39,447.42 283.41,446.05 Q284.42,444.68 285.78,443.55 Q287.15,442.41 288.60,441.25 Q290.06,440.09 291.98,439.59 Q293.90,439.10 295.86,439.00 Q297.82,438.91 299.67,439.26 Q301.52,439.61 303.22,440.25 Q304.92,440.88 306.17,441.98 Q307.41,443.08 308.54,444.27 Q309.67,445.45 309.97,446.97Z" fill="none" stroke="#52509a" stroke-width="2" opacity="0.9" filter="url(#bl0)"/>
</g>
<path d="M310.53,446.79 Q310.83,448.38 311.14,449.99 Q311.45,451.59 310.69,453.16 Q309.93,454.72 309.23,456.32 Q308.54,457.92 307.07,459.16 Q305.59,460.40 303.79,461.24 Q301.99,462.09 300.09,462.76 Q298.19,463.43 296.16,463.54 Q294.14,463.65 292.30,463.11 Q290.46,462.57 288.59,462.10 Q286.72,461.63 285.23,460.60 Q283.75,459.57 282.77,458.18 Q281.80,456.79 281.03,455.28 Q280.27,453.77 280.34,452.09 Q280.41,450.40 281.12,448.81 Q281.84,447.21 282.89,445.78 Q283.94,444.35 285.36,443.15 Q286.77,441.96 288.29,440.75 Q289.80,439.53 291.80,439.02 Q293.80,438.50 295.83,438.40 Q297.87,438.30 299.80,438.68 Q301.73,439.05 303.49,439.72 Q305.26,440.39 306.56,441.55 Q307.86,442.70 309.04,443.95 Q310.22,445.20 310.53,446.79Z" fill="none" stroke="#b2e0f4" stroke-width="0.8"/>
<clipPath id="c103"><path d="M348.25,455.49 Q348.35,457.39 347.46,459.08 Q346.56,460.77 345.63,462.40 Q344.71,464.04 343.22,465.29 Q341.73,466.54 339.81,467.10 Q337.89,467.67 335.96,467.95 Q334.03,468.23 332.03,468.42 Q330.03,468.60 328.20,467.77 Q326.38,466.93 324.61,466.06 Q322.84,465.18 321.21,463.97 Q319.58,462.76 318.61,461.06 Q317.63,459.35 317.61,457.46 Q317.59,455.56 317.67,453.78 Q317.75,452.00 318.22,450.27 Q318.70,448.54 319.45,446.81 Q320.19,445.08 321.99,444.20 Q323.78,443.32 325.45,442.42 Q327.11,441.52 329.04,441.23 Q330.96,440.93 332.92,441.03 Q334.88,441.13 336.85,441.49 Q338.83,441.86 340.42,443.03 Q342.01,444.19 343.47,445.47 Q344.93,446.74 346.07,448.32 Q347.21,449.90 347.68,451.75 Q348.15,453.59 348.25,455.49Z"/></clipPath>
<path d="M349.37,455.54 Q349.47,457.59 348.51,459.41 Q347.55,461.24 346.56,463.00 Q345.56,464.76 343.97,466.11 Q342.38,467.46 340.31,468.07 Q338.25,468.68 336.19,468.98 Q334.12,469.29 331.98,469.49 Q329.84,469.69 327.88,468.80 Q325.92,467.90 324.03,466.96 Q322.14,466.01 320.40,464.71 Q318.66,463.41 317.61,461.57 Q316.56,459.74 316.55,457.70 Q316.53,455.66 316.61,453.74 Q316.70,451.81 317.21,449.95 Q317.73,448.09 318.53,446.22 Q319.33,444.36 321.25,443.41 Q323.18,442.46 324.96,441.48 Q326.74,440.51 328.81,440.19 Q330.87,439.87 332.97,439.97 Q335.06,440.08 337.18,440.47 Q339.29,440.86 340.99,442.12 Q342.69,443.37 344.26,444.74 Q345.83,446.12 347.05,447.82 Q348.27,449.52 348.77,451.50 Q349.27,453.49 349.37,455.54Z" fill="#b2e0f4" filter="url(#bl0)"/>
<g clip-path="url(#c103)">
<path d="M348.25,455.49 Q348.35,457.39 347.46,459.08 Q346.56,460.77 345.63,462.40 Q344.71,464.04 343.22,465.29 Q341.73,466.54 339.81,467.10 Q337.89,467.67 335.96,467.95 Q334.03,468.23 332.03,468.42 Q330.03,468.60 328.20,467.77 Q326.38,466.93 324.61,466.06 Q322.84,465.18 321.21,463.97 Q319.58,462.76 318.61,461.06 Q317.63,459.35 317.61,457.46 Q317.59,455.56 317.67,453.78 Q317.75,452.00 318.22,450.27 Q318.70,448.54 319.45,446.81 Q320.19,445.08 321.99,444.20 Q323.78,443.32 325.45,442.42 Q327.11,441.52 329.04,441.23 Q330.96,440.93 332.92,441.03 Q334.88,441.13 336.85,441.49 Q338.83,441.86 340.42,443.03 Q342.01,444.19 343.47,445.47 Q344.93,446.74 346.07,448.32 Q347.21,449.90 347.68,451.75 Q348.15,453.59 348.25,455.49Z" fill="#8272b8"/>
<ellipse cx="332.50" cy="454.60" rx="12.40" ry="11.28" fill="#9a4c9e" opacity="0.60" filter="url(#bl1)"/>
<rect x="314.0" y="437.5" width="37.0" height="34.2" fill="#000" filter="url(#mot)" opacity="0.38"/>
<path d="M347.64,455.46 Q347.74,457.29 346.88,458.90 Q346.02,460.52 345.13,462.08 Q344.24,463.64 342.81,464.84 Q341.38,466.04 339.53,466.58 Q337.69,467.12 335.83,467.39 Q333.98,467.66 332.06,467.83 Q330.14,468.00 328.38,467.20 Q326.62,466.40 324.92,465.56 Q323.22,464.72 321.66,463.57 Q320.09,462.41 319.15,460.77 Q318.21,459.14 318.19,457.33 Q318.17,455.51 318.24,453.81 Q318.32,452.10 318.78,450.45 Q319.23,448.79 319.95,447.14 Q320.66,445.48 322.39,444.64 Q324.11,443.80 325.71,442.94 Q327.31,442.07 329.16,441.79 Q331.01,441.51 332.89,441.61 Q334.77,441.70 336.67,442.05 Q338.57,442.40 340.10,443.52 Q341.63,444.64 343.04,445.86 Q344.45,447.08 345.54,448.60 Q346.64,450.11 347.09,451.88 Q347.54,453.64 347.64,455.46Z" fill="none" stroke="#52509a" stroke-width="2" opacity="0.9" filter="url(#bl0)"/>
</g>
<path d="M348.25,455.49 Q348.35,457.39 347.46,459.08 Q346.56,460.77 345.63,462.40 Q344.71,464.04 343.22,465.29 Q341.73,466.54 339.81,467.10 Q337.89,467.67 335.96,467.95 Q334.03,468.23 332.03,468.42 Q330.03,468.60 328.20,467.77 Q326.38,466.93 324.61,466.06 Q322.84,465.18 321.21,463.97 Q319.58,462.76 318.61,461.06 Q317.63,459.35 317.61,457.46 Q317.59,455.56 317.67,453.78 Q317.75,452.00 318.22,450.27 Q318.70,448.54 319.45,446.81 Q320.19,445.08 321.99,444.20 Q323.78,443.32 325.45,442.42 Q327.11,441.52 329.04,441.23 Q330.96,440.93 332.92,441.03 Q334.88,441.13 336.85,441.49 Q338.83,441.86 340.42,443.03 Q342.01,444.19 343.47,445.47 Q344.93,446.74 346.07,448.32 Q347.21,449.90 347.68,451.75 Q348.15,453.59 348.25,455.49Z" fill="none" stroke="#b2e0f4" stroke-width="0.8"/>
<clipPath id="c104"><path d="M257.79,462.17 Q258.39,464.00 258.11,465.92 Q257.83,467.84 257.08,469.59 Q256.33,471.33 255.07,472.65 Q253.80,473.96 252.48,475.13 Q251.16,476.30 249.63,477.22 Q248.10,478.15 246.35,478.45 Q244.60,478.75 242.95,478.06 Q241.29,477.37 239.71,476.75 Q238.13,476.14 236.51,475.32 Q234.90,474.50 234.17,472.74 Q233.43,470.98 232.51,469.38 Q231.59,467.77 231.54,465.89 Q231.48,464.00 231.54,462.11 Q231.60,460.23 232.18,458.41 Q232.75,456.59 233.94,455.17 Q235.13,453.75 236.57,452.69 Q238.01,451.64 239.61,450.96 Q241.21,450.29 242.90,449.87 Q244.60,449.46 246.34,449.70 Q248.08,449.95 249.64,450.78 Q251.20,451.62 252.59,452.73 Q253.98,453.85 255.07,455.31 Q256.15,456.78 256.68,458.56 Q257.20,460.35 257.79,462.17Z"/></clipPath>
<path d="M258.89,462.03 Q259.53,464.00 259.23,466.07 Q258.92,468.13 258.11,470.01 Q257.30,471.89 255.93,473.31 Q254.56,474.72 253.13,475.98 Q251.70,477.24 250.05,478.23 Q248.39,479.23 246.50,479.55 Q244.60,479.88 242.81,479.14 Q241.02,478.39 239.30,477.73 Q237.59,477.07 235.84,476.19 Q234.10,475.31 233.30,473.41 Q232.51,471.51 231.51,469.79 Q230.52,468.06 230.46,466.03 Q230.40,464.00 230.46,461.97 Q230.53,459.94 231.15,457.98 Q231.77,456.03 233.06,454.50 Q234.35,452.97 235.91,451.83 Q237.46,450.69 239.19,449.97 Q240.93,449.24 242.76,448.80 Q244.60,448.35 246.48,448.61 Q248.37,448.87 250.06,449.77 Q251.75,450.67 253.25,451.87 Q254.75,453.07 255.93,454.65 Q257.11,456.23 257.67,458.15 Q258.24,460.07 258.89,462.03Z" fill="#b2e0f4" filter="url(#bl0)"/>
<g clip-path="url(#c104)">
<path d="M257.79,462.17 Q258.39,464.00 258.11,465.92 Q257.83,467.84 257.08,469.59 Q256.33,471.33 255.07,472.65 Q253.80,473.96 252.48,475.13 Q251.16,476.30 249.63,477.22 Q248.10,478.15 246.35,478.45 Q244.60,478.75 242.95,478.06 Q241.29,477.37 239.71,476.75 Q238.13,476.14 236.51,475.32 Q234.90,474.50 234.17,472.74 Q233.43,470.98 232.51,469.38 Q231.59,467.77 231.54,465.89 Q231.48,464.00 231.54,462.11 Q231.60,460.23 232.18,458.41 Q232.75,456.59 233.94,455.17 Q235.13,453.75 236.57,452.69 Q238.01,451.64 239.61,450.96 Q241.21,450.29 242.90,449.87 Q244.60,449.46 246.34,449.70 Q248.08,449.95 249.64,450.78 Q251.20,451.62 252.59,452.73 Q253.98,453.85 255.07,455.31 Q256.15,456.78 256.68,458.56 Q257.20,460.35 257.79,462.17Z" fill="#8272b8"/>
<ellipse cx="244.60" cy="464.00" rx="10.64" ry="11.52" fill="#9a4c9e" opacity="0.54" filter="url(#bl1)"/>
<rect x="228.3" y="446.6" width="32.6" height="34.8" fill="#000" filter="url(#mot)" opacity="0.38"/>
<path d="M257.20,462.25 Q257.77,464.00 257.50,465.84 Q257.23,467.68 256.52,469.35 Q255.80,471.03 254.59,472.29 Q253.38,473.55 252.12,474.67 Q250.86,475.79 249.40,476.67 Q247.94,477.56 246.27,477.85 Q244.60,478.14 243.02,477.48 Q241.44,476.81 239.93,476.22 Q238.42,475.63 236.88,474.85 Q235.34,474.07 234.64,472.38 Q233.94,470.69 233.06,469.15 Q232.18,467.62 232.13,465.81 Q232.07,464.00 232.13,462.19 Q232.19,460.39 232.74,458.64 Q233.28,456.90 234.42,455.54 Q235.56,454.18 236.93,453.17 Q238.31,452.15 239.83,451.51 Q241.36,450.86 242.98,450.46 Q244.60,450.07 246.26,450.30 Q247.92,450.53 249.41,451.33 Q250.90,452.14 252.23,453.20 Q253.56,454.27 254.59,455.67 Q255.63,457.08 256.13,458.79 Q256.63,460.50 257.20,462.25Z" fill="none" stroke="#52509a" stroke-width="2" opacity="0.9" filter="url(#bl0)"/>
</g>
<path d="M257.79,462.17 Q258.39,464.00 258.11,465.92 Q257.83,467.84 257.08,469.59 Q256.33,471.33 255.07,472.65 Q253.80,473.96 252.48,475.13 Q251.16,476.30 249.63,477.22 Q248.10,478.15 246.35,478.45 Q244.60,478.75 242.95,478.06 Q241.29,477.37 239.71,476.75 Q238.13,476.14 236.51,475.32 Q234.90,474.50 234.17,472.74 Q233.43,470.98 232.51,469.38 Q231.59,467.77 231.54,465.89 Q231.48,464.00 231.54,462.11 Q231.60,460.23 232.18,458.41 Q232.75,456.59 233.94,455.17 Q235.13,453.75 236.57,452.69 Q238.01,451.64 239.61,450.96 Q241.21,450.29 242.90,449.87 Q244.60,449.46 246.34,449.70 Q248.08,449.95 249.64,450.78 Q251.20,451.62 252.59,452.73 Q253.98,453.85 255.07,455.31 Q256.15,456.78 256.68,458.56 Q257.20,460.35 257.79,462.17Z" fill="none" stroke="#b2e0f4" stroke-width="0.8"/>
<clipPath id="c105"><path d="M282.63,463.87 Q282.88,465.70 282.40,467.46 Q281.93,469.23 281.50,470.99 Q281.08,472.76 280.12,474.29 Q279.16,475.81 277.66,476.64 Q276.16,477.47 274.73,478.39 Q273.30,479.32 271.65,479.32 Q270.00,479.32 268.43,478.99 Q266.85,478.67 265.34,478.09 Q263.83,477.51 262.40,476.58 Q260.98,475.65 260.23,474.03 Q259.48,472.41 258.63,470.86 Q257.77,469.32 257.71,467.51 Q257.65,465.70 257.95,463.96 Q258.25,462.22 258.74,460.53 Q259.24,458.84 260.24,457.43 Q261.24,456.03 262.51,454.91 Q263.77,453.79 265.22,452.88 Q266.67,451.96 268.33,451.70 Q270.00,451.44 271.58,452.05 Q273.16,452.66 274.83,452.97 Q276.49,453.28 277.71,454.57 Q278.92,455.85 280.07,457.20 Q281.22,458.55 281.80,460.29 Q282.38,462.04 282.63,463.87Z"/></clipPath>
<path d="M283.74,463.72 Q284.01,465.70 283.49,467.60 Q282.98,469.51 282.51,471.42 Q282.05,473.32 281.01,474.97 Q279.96,476.62 278.33,477.51 Q276.70,478.41 275.15,479.41 Q273.60,480.40 271.80,480.40 Q270.00,480.40 268.29,480.05 Q266.57,479.71 264.93,479.08 Q263.28,478.45 261.74,477.45 Q260.19,476.45 259.37,474.69 Q258.55,472.94 257.63,471.27 Q256.70,469.61 256.63,467.65 Q256.56,465.70 256.89,463.82 Q257.21,461.95 257.75,460.12 Q258.29,458.29 259.38,456.78 Q260.47,455.26 261.85,454.05 Q263.22,452.84 264.80,451.85 Q266.37,450.87 268.19,450.58 Q270.00,450.30 271.72,450.96 Q273.44,451.62 275.25,451.96 Q277.07,452.29 278.38,453.68 Q279.70,455.07 280.96,456.52 Q282.21,457.98 282.84,459.86 Q283.47,461.75 283.74,463.72Z" fill="#b2e0f4" filter="url(#bl0)"/>
<g clip-path="url(#c105)">
<path d="M282.63,463.87 Q282.88,465.70 282.40,467.46 Q281.93,469.23 281.50,470.99 Q281.08,472.76 280.12,474.29 Q279.16,475.81 277.66,476.64 Q276.16,477.47 274.73,478.39 Q273.30,479.32 271.65,479.32 Q270.00,479.32 268.43,478.99 Q266.85,478.67 265.34,478.09 Q263.83,477.51 262.40,476.58 Q260.98,475.65 260.23,474.03 Q259.48,472.41 258.63,470.86 Q257.77,469.32 257.71,467.51 Q257.65,465.70 257.95,463.96 Q258.25,462.22 258.74,460.53 Q259.24,458.84 260.24,457.43 Q261.24,456.03 262.51,454.91 Q263.77,453.79 265.22,452.88 Q266.67,451.96 268.33,451.70 Q270.00,451.44 271.58,452.05 Q273.16,452.66 274.83,452.97 Q276.49,453.28 277.71,454.57 Q278.92,455.85 280.07,457.20 Q281.22,458.55 281.80,460.29 Q282.38,462.04 282.63,463.87Z" fill="#8272b8"/>
<ellipse cx="270.00" cy="465.70" rx="10.00" ry="11.04" fill="#9a4c9e" opacity="0.60" filter="url(#bl1)"/>
<rect x="254.5" y="448.9" width="31.0" height="33.6" fill="#000" filter="url(#mot)" opacity="0.38"/>
<path d="M282.02,463.95 Q282.26,465.70 281.81,467.39 Q281.36,469.08 280.95,470.76 Q280.55,472.45 279.63,473.91 Q278.72,475.37 277.29,476.17 Q275.86,476.96 274.50,477.84 Q273.15,478.72 271.57,478.72 Q270.00,478.73 268.50,478.42 Q267.00,478.11 265.56,477.55 Q264.12,476.99 262.77,476.11 Q261.42,475.22 260.70,473.67 Q259.98,472.11 259.17,470.64 Q258.36,469.16 258.30,467.43 Q258.24,465.70 258.53,464.04 Q258.81,462.37 259.28,460.76 Q259.75,459.14 260.71,457.79 Q261.66,456.45 262.87,455.38 Q264.07,454.30 265.45,453.43 Q266.83,452.56 268.41,452.31 Q270.00,452.06 271.51,452.64 Q273.01,453.23 274.60,453.53 Q276.18,453.82 277.34,455.05 Q278.49,456.28 279.59,457.57 Q280.68,458.86 281.24,460.53 Q281.79,462.20 282.02,463.95Z" fill="none" stroke="#52509a" stroke-width="2" opacity="0.9" filter="url(#bl0)"/>
</g>
<path d="M282.63,463.87 Q282.88,465.70 282.40,467.46 Q281.93,469.23 281.50,470.99 Q281.08,472.76 280.12,474.29 Q279.16,475.81 277.66,476.64 Q276.16,477.47 274.73,478.39 Q273.30,479.32 271.65,479.32 Q270.00,479.32 268.43,478.99 Q266.85,478.67 265.34,478.09 Q263.83,477.51 262.40,476.58 Q260.98,475.65 260.23,474.03 Q259.48,472.41 258.63,470.86 Q257.77,469.32 257.71,467.51 Q257.65,465.70 257.95,463.96 Q258.25,462.22 258.74,460.53 Q259.24,458.84 260.24,457.43 Q261.24,456.03 262.51,454.91 Q263.77,453.79 265.22,452.88 Q266.67,451.96 268.33,451.70 Q270.00,451.44 271.58,452.05 Q273.16,452.66 274.83,452.97 Q276.49,453.28 277.71,454.57 Q278.92,455.85 280.07,457.20 Q281.22,458.55 281.80,460.29 Q282.38,462.04 282.63,463.87Z" fill="none" stroke="#b2e0f4" stroke-width="0.8"/>
<clipPath id="c106"><path d="M335.45,478.26 Q336.08,480.30 335.92,482.46 Q335.75,484.63 334.37,486.36 Q332.99,488.09 332.14,490.12 Q331.30,492.16 329.46,493.43 Q327.62,494.69 325.40,495.04 Q323.19,495.39 321.10,496.15 Q319.00,496.90 316.77,496.61 Q314.55,496.33 312.68,495.15 Q310.81,493.98 308.74,493.08 Q306.67,492.19 305.64,490.25 Q304.61,488.31 303.72,486.39 Q302.84,484.48 302.41,482.39 Q301.99,480.30 302.26,478.17 Q302.53,476.04 303.34,474.04 Q304.16,472.04 305.75,470.54 Q307.33,469.05 308.97,467.67 Q310.61,466.29 312.69,465.70 Q314.78,465.11 316.89,464.75 Q319.00,464.39 321.17,464.53 Q323.34,464.66 325.23,465.71 Q327.11,466.75 328.92,467.87 Q330.74,468.98 332.33,470.49 Q333.92,472.00 334.36,474.11 Q334.81,476.21 335.45,478.26Z"/></clipPath>
<path d="M336.52,478.12 Q337.20,480.30 337.02,482.61 Q336.84,484.92 335.37,486.77 Q333.90,488.62 333.00,490.79 Q332.10,492.97 330.14,494.32 Q328.18,495.67 325.82,496.04 Q323.47,496.42 321.23,497.22 Q319.00,498.02 316.63,497.72 Q314.25,497.42 312.26,496.16 Q310.27,494.91 308.07,493.95 Q305.87,492.99 304.77,490.93 Q303.67,488.86 302.72,486.81 Q301.78,484.76 301.33,482.53 Q300.88,480.30 301.16,478.03 Q301.45,475.75 302.32,473.62 Q303.19,471.48 304.88,469.88 Q306.57,468.28 308.31,466.81 Q310.06,465.34 312.28,464.71 Q314.50,464.07 316.75,463.69 Q319.00,463.31 321.31,463.46 Q323.63,463.60 325.64,464.71 Q327.65,465.83 329.57,467.02 Q331.50,468.21 333.20,469.82 Q334.89,471.43 335.37,473.68 Q335.85,475.94 336.52,478.12Z" fill="#b2e0f4" filter="url(#bl0)"/>
<g clip-path="url(#c106)">
<path d="M335.45,478.26 Q336.08,480.30 335.92,482.46 Q335.75,484.63 334.37,486.36 Q332.99,488.09 332.14,490.12 Q331.30,492.16 329.46,493.43 Q327.62,494.69 325.40,495.04 Q323.19,495.39 321.10,496.15 Q319.00,496.90 316.77,496.61 Q314.55,496.33 312.68,495.15 Q310.81,493.98 308.74,493.08 Q306.67,492.19 305.64,490.25 Q304.61,488.31 303.72,486.39 Q302.84,484.48 302.41,482.39 Q301.99,480.30 302.26,478.17 Q302.53,476.04 303.34,474.04 Q304.16,472.04 305.75,470.54 Q307.33,469.05 308.97,467.67 Q310.61,466.29 312.69,465.70 Q314.78,465.11 316.89,464.75 Q319.00,464.39 321.17,464.53 Q323.34,464.66 325.23,465.71 Q327.11,466.75 328.92,467.87 Q330.74,468.98 332.33,470.49 Q333.92,472.00 334.36,474.11 Q334.81,476.21 335.45,478.26Z" fill="#8272b8"/>
<ellipse cx="315.00" cy="483.30" rx="11.76" ry="11.34" fill="#9a4c9e" opacity="0.33" filter="url(#bl1)"/>
<rect x="299.2" y="461.1" width="39.6" height="38.4" fill="#000" filter="url(#mot)" opacity="0.38"/>
<path d="M334.86,478.33 Q335.47,480.30 335.31,482.38 Q335.15,484.47 333.82,486.13 Q332.49,487.80 331.67,489.76 Q330.86,491.72 329.08,492.94 Q327.31,494.16 325.18,494.50 Q323.04,494.83 321.02,495.56 Q319.00,496.28 316.85,496.01 Q314.70,495.74 312.90,494.60 Q311.10,493.47 309.11,492.61 Q307.11,491.75 306.12,489.88 Q305.12,488.02 304.27,486.17 Q303.41,484.32 303.01,482.31 Q302.60,480.30 302.86,478.25 Q303.11,476.20 303.90,474.27 Q304.69,472.35 306.22,470.91 Q307.75,469.46 309.33,468.14 Q310.91,466.81 312.92,466.24 Q314.93,465.67 316.96,465.32 Q319.00,464.98 321.09,465.11 Q323.19,465.24 325.01,466.25 Q326.82,467.25 328.57,468.33 Q330.32,469.40 331.85,470.85 Q333.38,472.30 333.81,474.33 Q334.25,476.37 334.86,478.33Z" fill="none" stroke="#52509a" stroke-width="2" opacity="0.9" filter="url(#bl0)"/>
</g>
<path d="M335.45,478.26 Q336.08,480.30 335.92,482.46 Q335.75,484.63 334.37,486.36 Q332.99,488.09 332.14,490.12 Q331.30,492.16 329.46,493.43 Q327.62,494.69 325.40,495.04 Q323.19,495.39 321.10,496.15 Q319.00,496.90 316.77,496.61 Q314.55,496.33 312.68,495.15 Q310.81,493.98 308.74,493.08 Q306.67,492.19 305.64,490.25 Q304.61,488.31 303.72,486.39 Q302.84,484.48 302.41,482.39 Q301.99,480.30 302.26,478.17 Q302.53,476.04 303.34,474.04 Q304.16,472.04 305.75,470.54 Q307.33,469.05 308.97,467.67 Q310.61,466.29 312.69,465.70 Q314.78,465.11 316.89,464.75 Q319.00,464.39 321.17,464.53 Q323.34,464.66 325.23,465.71 Q327.11,466.75 328.92,467.87 Q330.74,468.98 332.33,470.49 Q333.92,472.00 334.36,474.11 Q334.81,476.21 335.45,478.26Z" fill="none" stroke="#b2e0f4" stroke-width="0.8"/>
<clipPath id="c107"><path d="M248.16,488.06 Q248.25,490.00 248.20,491.95 Q248.15,493.91 247.69,495.85 Q247.23,497.78 246.09,499.26 Q244.95,500.74 243.60,501.86 Q242.24,502.97 240.71,503.62 Q239.19,504.27 237.59,504.42 Q236.00,504.57 234.32,504.82 Q232.64,505.07 231.13,504.16 Q229.62,503.25 228.48,501.82 Q227.34,500.39 226.22,498.98 Q225.09,497.56 224.41,495.75 Q223.72,493.95 223.41,491.97 Q223.09,490.00 223.62,488.09 Q224.14,486.19 224.74,484.40 Q225.34,482.61 226.36,481.14 Q227.38,479.66 228.54,478.29 Q229.71,476.92 231.18,475.97 Q232.66,475.02 234.33,474.87 Q236.00,474.72 237.57,475.32 Q239.14,475.93 240.66,476.54 Q242.19,477.14 243.36,478.45 Q244.54,479.75 245.54,481.23 Q246.53,482.70 247.30,484.41 Q248.07,486.12 248.16,488.06Z"/></clipPath>
<path d="M249.23,487.92 Q249.32,490.00 249.27,492.10 Q249.22,494.19 248.72,496.27 Q248.22,498.35 246.98,499.94 Q245.74,501.53 244.26,502.73 Q242.79,503.92 241.13,504.62 Q239.47,505.31 237.73,505.47 Q236.00,505.63 234.17,505.90 Q232.34,506.17 230.70,505.20 Q229.06,504.23 227.82,502.69 Q226.58,501.16 225.35,499.63 Q224.13,498.11 223.39,496.17 Q222.64,494.24 222.30,492.12 Q221.96,490.00 222.53,487.95 Q223.09,485.91 223.75,483.99 Q224.40,482.07 225.51,480.49 Q226.62,478.90 227.89,477.43 Q229.15,475.96 230.76,474.94 Q232.36,473.92 234.18,473.76 Q236.00,473.60 237.71,474.25 Q239.42,474.90 241.07,475.55 Q242.73,476.20 244.01,477.60 Q245.29,479.00 246.37,480.58 Q247.46,482.17 248.29,484.00 Q249.13,485.84 249.23,487.92Z" fill="#b2e0f4" filter="url(#bl0)"/>
<g clip-path="url(#c107)">
<path d="M248.16,488.06 Q248.25,490.00 248.20,491.95 Q248.15,493.91 247.69,495.85 Q247.23,497.78 246.09,499.26 Q244.95,500.74 243.60,501.86 Q242.24,502.97 240.71,503.62 Q239.19,504.27 237.59,504.42 Q236.00,504.57 234.32,504.82 Q232.64,505.07 231.13,504.16 Q229.62,503.25 228.48,501.82 Q227.34,500.39 226.22,498.98 Q225.09,497.56 224.41,495.75 Q223.72,493.95 223.41,491.97 Q223.09,490.00 223.62,488.09 Q224.14,486.19 224.74,484.40 Q225.34,482.61 226.36,481.14 Q227.38,479.66 228.54,478.29 Q229.71,476.92 231.18,475.97 Q232.66,475.02 234.33,474.87 Q236.00,474.72 237.57,475.32 Q239.14,475.93 240.66,476.54 Q242.19,477.14 243.36,478.45 Q244.54,479.75 245.54,481.23 Q246.53,482.70 247.30,484.41 Q248.07,486.12 248.16,488.06Z" fill="#8272b8"/>
<ellipse cx="236.00" cy="490.00" rx="10.00" ry="12.00" fill="#9a4c9e" opacity="0.60" filter="url(#bl1)"/>
<rect x="220.5" y="472.0" width="31.0" height="36.0" fill="#000" filter="url(#mot)" opacity="0.38"/>
<path d="M247.57,488.14 Q247.66,490.00 247.61,491.88 Q247.57,493.75 247.13,495.61 Q246.70,497.47 245.61,498.89 Q244.52,500.31 243.23,501.38 Q241.94,502.45 240.49,503.08 Q239.03,503.70 237.52,503.84 Q236.00,503.98 234.40,504.22 Q232.80,504.46 231.36,503.59 Q229.93,502.72 228.84,501.35 Q227.75,499.98 226.69,498.62 Q225.62,497.25 224.96,495.52 Q224.31,493.79 224.01,491.89 Q223.71,490.00 224.21,488.17 Q224.71,486.34 225.28,484.62 Q225.85,482.91 226.82,481.49 Q227.80,480.07 228.90,478.76 Q230.01,477.44 231.41,476.53 Q232.82,475.62 234.41,475.48 Q236.00,475.33 237.50,475.91 Q238.99,476.49 240.44,477.07 Q241.89,477.66 243.01,478.91 Q244.13,480.16 245.08,481.58 Q246.03,483.00 246.76,484.64 Q247.49,486.28 247.57,488.14Z" fill="none" stroke="#52509a" stroke-width="2" opacity="0.9" filter="url(#bl0)"/>
</g>
<path d="M248.16,488.06 Q248.25,490.00 248.20,491.95 Q248.15,493.91 247.69,495.85 Q247.23,497.78 246.09,499.26 Q244.95,500.74 243.60,501.86 Q242.24,502.97 240.71,503.62 Q239.19,504.27 237.59,504.42 Q236.00,504.57 234.32,504.82 Q232.64,505.07 231.13,504.16 Q229.62,503.25 228.48,501.82 Q227.34,500.39 226.22,498.98 Q225.09,497.56 224.41,495.75 Q223.72,493.95 223.41,491.97 Q223.09,490.00 223.62,488.09 Q224.14,486.19 224.74,484.40 Q225.34,482.61 226.36,481.14 Q227.38,479.66 228.54,478.29 Q229.71,476.92 231.18,475.97 Q232.66,475.02 234.33,474.87 Q236.00,474.72 237.57,475.32 Q239.14,475.93 240.66,476.54 Q242.19,477.14 243.36,478.45 Q244.54,479.75 245.54,481.23 Q246.53,482.70 247.30,484.41 Q248.07,486.12 248.16,488.06Z" fill="none" stroke="#b2e0f4" stroke-width="0.8"/>
<clipPath id="c108"><path d="M273.93,490.21 Q273.80,492.00 273.94,493.79 Q274.07,495.58 273.41,497.27 Q272.75,498.96 271.45,500.21 Q270.16,501.46 268.74,502.47 Q267.33,503.48 265.72,504.10 Q264.11,504.72 262.40,504.89 Q260.70,505.05 258.99,504.89 Q257.29,504.74 255.70,504.08 Q254.11,503.41 252.50,502.61 Q250.88,501.82 250.09,500.20 Q249.30,498.58 248.64,497.00 Q247.98,495.41 247.36,493.70 Q246.74,492.00 246.98,490.19 Q247.22,488.39 248.30,486.93 Q249.38,485.46 250.34,484.03 Q251.29,482.59 252.49,481.22 Q253.69,479.85 255.46,479.46 Q257.24,479.07 258.97,478.72 Q260.70,478.36 262.47,478.56 Q264.25,478.76 265.89,479.47 Q267.53,480.17 268.72,481.48 Q269.91,482.79 271.25,483.96 Q272.60,485.13 273.33,486.77 Q274.07,488.42 273.93,490.21Z"/></clipPath>
<path d="M275.01,490.06 Q274.87,492.00 275.01,493.94 Q275.16,495.87 274.44,497.70 Q273.73,499.52 272.33,500.88 Q270.93,502.23 269.40,503.32 Q267.87,504.42 266.13,505.09 Q264.39,505.76 262.54,505.93 Q260.70,506.11 258.85,505.95 Q257.01,505.78 255.29,505.06 Q253.57,504.34 251.83,503.48 Q250.08,502.62 249.23,500.87 Q248.37,499.12 247.66,497.40 Q246.95,495.69 246.27,493.84 Q245.60,492.00 245.86,490.05 Q246.13,488.10 247.29,486.51 Q248.46,484.93 249.49,483.38 Q250.52,481.82 251.82,480.34 Q253.11,478.86 255.03,478.44 Q256.95,478.02 258.83,477.64 Q260.70,477.25 262.62,477.47 Q264.54,477.68 266.31,478.44 Q268.09,479.21 269.37,480.63 Q270.66,482.04 272.11,483.31 Q273.57,484.57 274.36,486.35 Q275.16,488.13 275.01,490.06Z" fill="#b2e0f4" filter="url(#bl0)"/>
<g clip-path="url(#c108)">
<path d="M273.93,490.21 Q273.80,492.00 273.94,493.79 Q274.07,495.58 273.41,497.27 Q272.75,498.96 271.45,500.21 Q270.16,501.46 268.74,502.47 Q267.33,503.48 265.72,504.10 Q264.11,504.72 262.40,504.89 Q260.70,505.05 258.99,504.89 Q257.29,504.74 255.70,504.08 Q254.11,503.41 252.50,502.61 Q250.88,501.82 250.09,500.20 Q249.30,498.58 248.64,497.00 Q247.98,495.41 247.36,493.70 Q246.74,492.00 246.98,490.19 Q247.22,488.39 248.30,486.93 Q249.38,485.46 250.34,484.03 Q251.29,482.59 252.49,481.22 Q253.69,479.85 255.46,479.46 Q257.24,479.07 258.97,478.72 Q260.70,478.36 262.47,478.56 Q264.25,478.76 265.89,479.47 Q267.53,480.17 268.72,481.48 Q269.91,482.79 271.25,483.96 Q272.60,485.13 273.33,486.77 Q274.07,488.42 273.93,490.21Z" fill="#8272b8"/>
<ellipse cx="261.70" cy="490.00" rx="10.12" ry="10.12" fill="#9a4c9e" opacity="0.48" filter="url(#bl1)"/>
<rect x="244.2" y="475.5" width="33.0" height="33.0" fill="#000" filter="url(#mot)" opacity="0.38"/>
<path d="M273.35,490.29 Q273.22,492.00 273.35,493.71 Q273.48,495.42 272.84,497.03 Q272.21,498.65 270.97,499.84 Q269.74,501.04 268.39,502.00 Q267.03,502.97 265.50,503.56 Q263.96,504.16 262.33,504.31 Q260.70,504.47 259.07,504.32 Q257.44,504.18 255.92,503.54 Q254.40,502.91 252.86,502.14 Q251.32,501.38 250.56,499.84 Q249.80,498.29 249.18,496.77 Q248.55,495.26 247.95,493.63 Q247.36,492.00 247.59,490.27 Q247.82,488.55 248.85,487.15 Q249.88,485.76 250.80,484.38 Q251.71,483.01 252.85,481.70 Q254.00,480.39 255.69,480.02 Q257.39,479.65 259.05,479.31 Q260.70,478.97 262.39,479.16 Q264.09,479.35 265.66,480.02 Q267.23,480.70 268.36,481.95 Q269.50,483.20 270.78,484.32 Q272.07,485.43 272.77,487.01 Q273.47,488.58 273.35,490.29Z" fill="none" stroke="#52509a" stroke-width="2" opacity="0.9" filter="url(#bl0)"/>
</g>
<path d="M273.93,490.21 Q273.80,492.00 273.94,493.79 Q274.07,495.58 273.41,497.27 Q272.75,498.96 271.45,500.21 Q270.16,501.46 268.74,502.47 Q267.33,503.48 265.72,504.10 Q264.11,504.72 262.40,504.89 Q260.70,505.05 258.99,504.89 Q257.29,504.74 255.70,504.08 Q254.11,503.41 252.50,502.61 Q250.88,501.82 250.09,500.20 Q249.30,498.58 248.64,497.00 Q247.98,495.41 247.36,493.70 Q246.74,492.00 246.98,490.19 Q247.22,488.39 248.30,486.93 Q249.38,485.46 250.34,484.03 Q251.29,482.59 252.49,481.22 Q253.69,479.85 255.46,479.46 Q257.24,479.07 258.97,478.72 Q260.70,478.36 262.47,478.56 Q264.25,478.76 265.89,479.47 Q267.53,480.17 268.72,481.48 Q269.91,482.79 271.25,483.96 Q272.60,485.13 273.33,486.77 Q274.07,488.42 273.93,490.21Z" fill="none" stroke="#b2e0f4" stroke-width="0.8"/>
<clipPath id="c109"><path d="M314.30,507.62 Q314.30,509.00 314.18,510.35 Q314.07,511.71 313.53,512.99 Q313.00,514.27 311.93,515.23 Q310.87,516.19 309.81,517.14 Q308.75,518.09 307.42,518.80 Q306.09,519.51 304.54,519.53 Q303.00,519.55 301.51,519.36 Q300.02,519.16 298.57,518.73 Q297.12,518.30 296.01,517.35 Q294.90,516.40 294.06,515.28 Q293.22,514.16 292.41,512.97 Q291.59,511.79 291.70,510.40 Q291.81,509.00 291.68,507.60 Q291.55,506.20 292.14,504.89 Q292.74,503.59 293.79,502.57 Q294.84,501.55 296.04,500.72 Q297.24,499.89 298.68,499.55 Q300.13,499.21 301.56,498.99 Q303.00,498.77 304.52,498.71 Q306.04,498.64 307.45,499.19 Q308.86,499.74 310.03,500.62 Q311.21,501.50 311.94,502.70 Q312.67,503.90 313.49,505.07 Q314.31,506.23 314.30,507.62Z"/></clipPath>
<path d="M315.38,507.47 Q315.38,509.00 315.25,510.50 Q315.13,511.99 314.54,513.41 Q313.95,514.82 312.79,515.88 Q311.63,516.94 310.46,517.99 Q309.30,519.05 307.84,519.83 Q306.38,520.61 304.69,520.64 Q303.00,520.66 301.37,520.44 Q299.73,520.22 298.14,519.75 Q296.55,519.28 295.34,518.22 Q294.13,517.17 293.20,515.93 Q292.28,514.70 291.39,513.39 Q290.50,512.08 290.62,510.54 Q290.74,509.00 290.59,507.45 Q290.45,505.90 291.10,504.46 Q291.75,503.02 292.90,501.89 Q294.06,500.77 295.37,499.85 Q296.69,498.94 298.27,498.56 Q299.85,498.18 301.43,497.94 Q303.00,497.70 304.67,497.63 Q306.33,497.55 307.87,498.16 Q309.42,498.77 310.71,499.74 Q312.00,500.72 312.80,502.04 Q313.60,503.37 314.49,504.66 Q315.39,505.94 315.38,507.47Z" fill="#b2e0f4" filter="url(#bl0)"/>
<g clip-path="url(#c109)">
<path d="M314.30,507.62 Q314.30,509.00 314.18,510.35 Q314.07,511.71 313.53,512.99 Q313.00,514.27 311.93,515.23 Q310.87,516.19 309.81,517.14 Q308.75,518.09 307.42,518.80 Q306.09,519.51 304.54,519.53 Q303.00,519.55 301.51,519.36 Q300.02,519.16 298.57,518.73 Q297.12,518.30 296.01,517.35 Q294.90,516.40 294.06,515.28 Q293.22,514.16 292.41,512.97 Q291.59,511.79 291.70,510.40 Q291.81,509.00 291.68,507.60 Q291.55,506.20 292.14,504.89 Q292.74,503.59 293.79,502.57 Q294.84,501.55 296.04,500.72 Q297.24,499.89 298.68,499.55 Q300.13,499.21 301.56,498.99 Q303.00,498.77 304.52,498.71 Q306.04,498.64 307.45,499.19 Q308.86,499.74 310.03,500.62 Q311.21,501.50 311.94,502.70 Q312.67,503.90 313.49,505.07 Q314.31,506.23 314.30,507.62Z" fill="#8272b8"/>
<ellipse cx="303.00" cy="509.00" rx="9.20" ry="8.40" fill="#9a4c9e" opacity="0.60" filter="url(#bl1)"/>
<rect x="288.5" y="495.5" width="29.0" height="27.0" fill="#000" filter="url(#mot)" opacity="0.38"/>
<path d="M313.71,507.70 Q313.71,509.00 313.60,510.28 Q313.49,511.55 312.98,512.76 Q312.48,513.97 311.47,514.87 Q310.46,515.78 309.46,516.68 Q308.45,517.58 307.19,518.24 Q305.92,518.91 304.46,518.93 Q303.00,518.95 301.59,518.76 Q300.17,518.58 298.80,518.17 Q297.42,517.77 296.37,516.87 Q295.32,515.97 294.53,514.92 Q293.73,513.86 292.96,512.75 Q292.19,511.63 292.29,510.32 Q292.39,509.00 292.27,507.68 Q292.14,506.36 292.71,505.13 Q293.27,503.90 294.27,502.94 Q295.26,501.97 296.40,501.19 Q297.54,500.42 298.91,500.09 Q300.28,499.77 301.64,499.56 Q303.00,499.36 304.44,499.29 Q305.88,499.23 307.22,499.75 Q308.55,500.27 309.67,501.10 Q310.78,501.93 311.47,503.06 Q312.17,504.19 312.94,505.29 Q313.72,506.39 313.71,507.70Z" fill="none" stroke="#52509a" stroke-width="2" opacity="0.9" filter="url(#bl0)"/>
</g>
<path d="M314.30,507.62 Q314.30,509.00 314.18,510.35 Q314.07,511.71 313.53,512.99 Q313.00,514.27 311.93,515.23 Q310.87,516.19 309.81,517.14 Q308.75,518.09 307.42,518.80 Q306.09,519.51 304.54,519.53 Q303.00,519.55 301.51,519.36 Q300.02,519.16 298.57,518.73 Q297.12,518.30 296.01,517.35 Q294.90,516.40 294.06,515.28 Q293.22,514.16 292.41,512.97 Q291.59,511.79 291.70,510.40 Q291.81,509.00 291.68,507.60 Q291.55,506.20 292.14,504.89 Q292.74,503.59 293.79,502.57 Q294.84,501.55 296.04,500.72 Q297.24,499.89 298.68,499.55 Q300.13,499.21 301.56,498.99 Q303.00,498.77 304.52,498.71 Q306.04,498.64 307.45,499.19 Q308.86,499.74 310.03,500.62 Q311.21,501.50 311.94,502.70 Q312.67,503.90 313.49,505.07 Q314.31,506.23 314.30,507.62Z" fill="none" stroke="#b2e0f4" stroke-width="0.8"/>
</g>
<g clip-path="url(#clR)">
<clipPath id="c200"><path d="M399.89,419.24 Q400.05,420.50 399.92,421.76 Q399.79,423.03 399.40,424.31 Q399.01,425.58 397.80,426.48 Q396.59,427.37 395.51,428.39 Q394.43,429.41 392.80,429.69 Q391.17,429.98 389.59,430.04 Q388.00,430.11 386.39,430.11 Q384.78,430.11 383.35,429.52 Q381.92,428.93 380.71,428.11 Q379.50,427.30 378.44,426.35 Q377.37,425.41 376.67,424.25 Q375.96,423.08 375.89,421.79 Q375.81,420.50 375.70,419.17 Q375.59,417.84 376.47,416.71 Q377.35,415.58 378.18,414.45 Q379.02,413.32 380.42,412.63 Q381.82,411.94 383.35,411.55 Q384.87,411.15 386.43,410.85 Q388.00,410.55 389.64,410.62 Q391.28,410.70 392.76,411.27 Q394.24,411.85 395.59,412.60 Q396.94,413.35 397.72,414.50 Q398.50,415.65 399.11,416.82 Q399.73,417.99 399.89,419.24Z"/></clipPath>
<path d="M400.93,419.10 Q401.11,420.50 400.97,421.90 Q400.82,423.30 400.40,424.72 Q399.97,426.14 398.66,427.13 Q397.34,428.12 396.17,429.26 Q395.00,430.39 393.23,430.71 Q391.45,431.02 389.73,431.09 Q388.00,431.17 386.25,431.17 Q384.50,431.17 382.94,430.51 Q381.38,429.86 380.07,428.95 Q378.76,428.05 377.59,427.00 Q376.43,425.95 375.67,424.66 Q374.91,423.36 374.82,421.93 Q374.73,420.50 374.61,419.02 Q374.49,417.55 375.45,416.29 Q376.41,415.04 377.32,413.78 Q378.23,412.53 379.75,411.76 Q381.28,411.00 382.94,410.56 Q384.59,410.12 386.30,409.79 Q388.00,409.46 389.79,409.54 Q391.57,409.62 393.18,410.26 Q394.79,410.90 396.26,411.73 Q397.73,412.56 398.57,413.84 Q399.42,415.12 400.09,416.41 Q400.76,417.71 400.93,419.10Z" fill="#b2e0f4" filter="url(#bl0)"/>
<g clip-path="url(#c200)">
<path d="M399.89,419.24 Q400.05,420.50 399.92,421.76 Q399.79,423.03 399.40,424.31 Q399.01,425.58 397.80,426.48 Q396.59,427.37 395.51,428.39 Q394.43,429.41 392.80,429.69 Q391.17,429.98 389.59,430.04 Q388.00,430.11 386.39,430.11 Q384.78,430.11 383.35,429.52 Q381.92,428.93 380.71,428.11 Q379.50,427.30 378.44,426.35 Q377.37,425.41 376.67,424.25 Q375.96,423.08 375.89,421.79 Q375.81,420.50 375.70,419.17 Q375.59,417.84 376.47,416.71 Q377.35,415.58 378.18,414.45 Q379.02,413.32 380.42,412.63 Q381.82,411.94 383.35,411.55 Q384.87,411.15 386.43,410.85 Q388.00,410.55 389.64,410.62 Q391.28,410.70 392.76,411.27 Q394.24,411.85 395.59,412.60 Q396.94,413.35 397.72,414.50 Q398.50,415.65 399.11,416.82 Q399.73,417.99 399.89,419.24Z" fill="#8272b8"/>
<ellipse cx="388.00" cy="420.50" rx="10.00" ry="8.00" fill="#9a4c9e" opacity="0.60" filter="url(#bl1)"/>
<rect x="372.5" y="407.5" width="31.0" height="26.0" fill="#000" filter="url(#mot)" opacity="0.38"/>
<path d="M399.32,419.32 Q399.47,420.50 399.34,421.69 Q399.22,422.88 398.85,424.08 Q398.48,425.28 397.33,426.12 Q396.17,426.96 395.15,427.92 Q394.12,428.88 392.57,429.14 Q391.02,429.41 389.51,429.47 Q388.00,429.53 386.47,429.53 Q384.93,429.54 383.57,428.98 Q382.21,428.42 381.06,427.66 Q379.91,426.89 378.89,426.00 Q377.88,425.12 377.21,424.02 Q376.54,422.93 376.47,421.71 Q376.39,420.50 376.29,419.25 Q376.18,418.00 377.02,416.94 Q377.86,415.88 378.65,414.81 Q379.45,413.75 380.79,413.10 Q382.12,412.46 383.57,412.08 Q385.02,411.71 386.51,411.43 Q388.00,411.15 389.56,411.22 Q391.13,411.29 392.53,411.83 Q393.94,412.37 395.23,413.07 Q396.51,413.78 397.25,414.86 Q397.99,415.94 398.58,417.04 Q399.16,418.14 399.32,419.32Z" fill="none" stroke="#52509a" stroke-width="2" opacity="0.9" filter="url(#bl0)"/>
</g>
<path d="M399.89,419.24 Q400.05,420.50 399.92,421.76 Q399.79,423.03 399.40,424.31 Q399.01,425.58 397.80,426.48 Q396.59,427.37 395.51,428.39 Q394.43,429.41 392.80,429.69 Q391.17,429.98 389.59,430.04 Q388.00,430.11 386.39,430.11 Q384.78,430.11 383.35,429.52 Q381.92,428.93 380.71,428.11 Q379.50,427.30 378.44,426.35 Q377.37,425.41 376.67,424.25 Q375.96,423.08 375.89,421.79 Q375.81,420.50 375.70,419.17 Q375.59,417.84 376.47,416.71 Q377.35,415.58 378.18,414.45 Q379.02,413.32 380.42,412.63 Q381.82,411.94 383.35,411.55 Q384.87,411.15 386.43,410.85 Q388.00,410.55 389.64,410.62 Q391.28,410.70 392.76,411.27 Q394.24,411.85 395.59,412.60 Q396.94,413.35 397.72,414.50 Q398.50,415.65 399.11,416.82 Q399.73,417.99 399.89,419.24Z" fill="none" stroke="#b2e0f4" stroke-width="0.8"/>
<clipPath id="c201"><path d="M404.68,437.02 Q404.60,438.50 404.53,439.94 Q404.45,441.38 403.76,442.65 Q403.06,443.93 402.28,445.14 Q401.49,446.35 400.43,447.42 Q399.37,448.48 397.94,449.03 Q396.52,449.58 395.01,449.68 Q393.50,449.77 391.98,449.70 Q390.46,449.64 389.12,448.94 Q387.77,448.25 386.45,447.49 Q385.13,446.72 384.29,445.46 Q383.45,444.20 383.08,442.77 Q382.71,441.34 382.33,439.92 Q381.94,438.50 382.18,437.04 Q382.41,435.58 382.96,434.21 Q383.51,432.83 384.53,431.76 Q385.55,430.69 386.61,429.63 Q387.66,428.56 389.13,428.21 Q390.60,427.86 392.05,427.62 Q393.50,427.38 394.96,427.60 Q396.41,427.81 397.78,428.35 Q399.14,428.90 400.28,429.81 Q401.42,430.71 402.54,431.72 Q403.66,432.74 404.21,434.14 Q404.76,435.54 404.68,437.02Z"/></clipPath>
<path d="M405.75,436.87 Q405.66,438.50 405.58,440.08 Q405.50,441.66 404.74,443.06 Q403.98,444.45 403.12,445.78 Q402.25,447.12 401.09,448.29 Q399.93,449.46 398.37,450.06 Q396.81,450.66 395.16,450.77 Q393.50,450.87 391.84,450.80 Q390.17,450.72 388.70,449.96 Q387.22,449.20 385.78,448.36 Q384.33,447.52 383.41,446.14 Q382.49,444.75 382.09,443.19 Q381.68,441.62 381.26,440.06 Q380.83,438.50 381.09,436.90 Q381.35,435.30 381.95,433.79 Q382.56,432.28 383.68,431.11 Q384.79,429.93 385.95,428.76 Q387.10,427.59 388.71,427.21 Q390.32,426.82 391.91,426.56 Q393.50,426.30 395.10,426.54 Q396.69,426.77 398.19,427.37 Q399.68,427.96 400.93,428.96 Q402.18,429.96 403.41,431.07 Q404.63,432.17 405.23,433.71 Q405.83,435.25 405.75,436.87Z" fill="#b2e0f4" filter="url(#bl0)"/>
<g clip-path="url(#c201)">
<path d="M404.68,437.02 Q404.60,438.50 404.53,439.94 Q404.45,441.38 403.76,442.65 Q403.06,443.93 402.28,445.14 Q401.49,446.35 400.43,447.42 Q399.37,448.48 397.94,449.03 Q396.52,449.58 395.01,449.68 Q393.50,449.77 391.98,449.70 Q390.46,449.64 389.12,448.94 Q387.77,448.25 386.45,447.49 Q385.13,446.72 384.29,445.46 Q383.45,444.20 383.08,442.77 Q382.71,441.34 382.33,439.92 Q381.94,438.50 382.18,437.04 Q382.41,435.58 382.96,434.21 Q383.51,432.83 384.53,431.76 Q385.55,430.69 386.61,429.63 Q387.66,428.56 389.13,428.21 Q390.60,427.86 392.05,427.62 Q393.50,427.38 394.96,427.60 Q396.41,427.81 397.78,428.35 Q399.14,428.90 400.28,429.81 Q401.42,430.71 402.54,431.72 Q403.66,432.74 404.21,434.14 Q404.76,435.54 404.68,437.02Z" fill="#8272b8"/>
<ellipse cx="393.50" cy="438.50" rx="9.20" ry="9.04" fill="#9a4c9e" opacity="0.60" filter="url(#bl1)"/>
<rect x="379.0" y="424.2" width="29.0" height="28.6" fill="#000" filter="url(#mot)" opacity="0.38"/>
<path d="M404.10,437.10 Q404.02,438.50 403.95,439.87 Q403.88,441.23 403.22,442.43 Q402.56,443.64 401.82,444.79 Q401.07,445.93 400.07,446.94 Q399.06,447.95 397.71,448.47 Q396.36,449.00 394.93,449.08 Q393.50,449.17 392.06,449.11 Q390.62,449.05 389.35,448.39 Q388.07,447.73 386.82,447.01 Q385.57,446.29 384.77,445.09 Q383.98,443.90 383.63,442.54 Q383.27,441.19 382.91,439.84 Q382.54,438.50 382.77,437.12 Q382.99,435.74 383.51,434.44 Q384.03,433.13 385.00,432.12 Q385.97,431.11 386.97,430.10 Q387.96,429.09 389.36,428.76 Q390.75,428.42 392.12,428.20 Q393.50,427.97 394.88,428.18 Q396.26,428.38 397.56,428.89 Q398.85,429.41 399.93,430.27 Q401.01,431.13 402.07,432.08 Q403.13,433.04 403.65,434.37 Q404.17,435.69 404.10,437.10Z" fill="none" stroke="#52509a" stroke-width="2" opacity="0.9" filter="url(#bl0)"/>
</g>
<path d="M404.68,437.02 Q404.60,438.50 404.53,439.94 Q404.45,441.38 403.76,442.65 Q403.06,443.93 402.28,445.14 Q401.49,446.35 400.43,447.42 Q399.37,448.48 397.94,449.03 Q396.52,449.58 395.01,449.68 Q393.50,449.77 391.98,449.70 Q390.46,449.64 389.12,448.94 Q387.77,448.25 386.45,447.49 Q385.13,446.72 384.29,445.46 Q383.45,444.20 383.08,442.77 Q382.71,441.34 382.33,439.92 Q381.94,438.50 382.18,437.04 Q382.41,435.58 382.96,434.21 Q383.51,432.83 384.53,431.76 Q385.55,430.69 386.61,429.63 Q387.66,428.56 389.13,428.21 Q390.60,427.86 392.05,427.62 Q393.50,427.38 394.96,427.60 Q396.41,427.81 397.78,428.35 Q399.14,428.90 400.28,429.81 Q401.42,430.71 402.54,431.72 Q403.66,432.74 404.21,434.14 Q404.76,435.54 404.68,437.02Z" fill="none" stroke="#b2e0f4" stroke-width="0.8"/>
<clipPath id="c202"><path d="M419.55,454.90 Q420.13,456.70 419.79,458.56 Q419.45,460.42 418.54,462.08 Q417.63,463.75 416.31,465.12 Q415.00,466.50 413.58,467.83 Q412.16,469.17 410.31,470.05 Q408.46,470.93 406.38,470.87 Q404.30,470.82 402.24,470.81 Q400.18,470.80 398.51,469.67 Q396.84,468.54 395.08,467.65 Q393.32,466.76 392.26,465.20 Q391.20,463.63 390.27,462.00 Q389.34,460.37 389.00,458.54 Q388.66,456.70 388.78,454.81 Q388.90,452.92 389.88,451.25 Q390.85,449.59 391.93,447.97 Q393.02,446.36 394.84,445.47 Q396.66,444.57 398.53,443.98 Q400.41,443.39 402.35,442.97 Q404.30,442.54 406.34,442.64 Q408.38,442.75 410.28,443.47 Q412.18,444.20 413.52,445.61 Q414.85,447.03 416.15,448.39 Q417.45,449.74 418.22,451.42 Q418.98,453.10 419.55,454.90Z"/></clipPath>
<path d="M420.63,454.76 Q421.25,456.70 420.89,458.70 Q420.52,460.71 419.55,462.50 Q418.57,464.29 417.16,465.78 Q415.75,467.26 414.24,468.70 Q412.72,470.14 410.74,471.09 Q408.76,472.03 406.53,471.97 Q404.30,471.91 402.09,471.90 Q399.88,471.89 398.10,470.68 Q396.31,469.46 394.42,468.50 Q392.54,467.54 391.40,465.86 Q390.27,464.17 389.27,462.41 Q388.27,460.66 387.91,458.68 Q387.55,456.70 387.68,454.66 Q387.81,452.63 388.85,450.83 Q389.90,449.04 391.06,447.30 Q392.22,445.56 394.17,444.60 Q396.12,443.63 398.12,443.00 Q400.13,442.36 402.22,441.90 Q404.30,441.44 406.49,441.55 Q408.67,441.67 410.70,442.45 Q412.74,443.23 414.17,444.76 Q415.60,446.28 416.99,447.74 Q418.39,449.20 419.20,451.01 Q420.02,452.82 420.63,454.76Z" fill="#b2e0f4" filter="url(#bl0)"/>
<g clip-path="url(#c202)">
<path d="M419.55,454.90 Q420.13,456.70 419.79,458.56 Q419.45,460.42 418.54,462.08 Q417.63,463.75 416.31,465.12 Q415.00,466.50 413.58,467.83 Q412.16,469.17 410.31,470.05 Q408.46,470.93 406.38,470.87 Q404.30,470.82 402.24,470.81 Q400.18,470.80 398.51,469.67 Q396.84,468.54 395.08,467.65 Q393.32,466.76 392.26,465.20 Q391.20,463.63 390.27,462.00 Q389.34,460.37 389.00,458.54 Q388.66,456.70 388.78,454.81 Q388.90,452.92 389.88,451.25 Q390.85,449.59 391.93,447.97 Q393.02,446.36 394.84,445.47 Q396.66,444.57 398.53,443.98 Q400.41,443.39 402.35,442.97 Q404.30,442.54 406.34,442.64 Q408.38,442.75 410.28,443.47 Q412.18,444.20 413.52,445.61 Q414.85,447.03 416.15,448.39 Q417.45,449.74 418.22,451.42 Q418.98,453.10 419.55,454.90Z" fill="#8272b8"/>
<ellipse cx="404.30" cy="456.70" rx="12.40" ry="11.36" fill="#9a4c9e" opacity="0.48" filter="url(#bl1)"/>
<rect x="385.8" y="439.5" width="37.0" height="34.4" fill="#000" filter="url(#mot)" opacity="0.38"/>
<path d="M418.96,454.97 Q419.51,456.70 419.19,458.48 Q418.86,460.26 417.98,461.86 Q417.11,463.45 415.85,464.77 Q414.58,466.08 413.22,467.36 Q411.86,468.64 410.08,469.49 Q408.30,470.33 406.30,470.28 Q404.30,470.22 402.32,470.21 Q400.34,470.21 398.73,469.12 Q397.13,468.04 395.43,467.19 Q393.74,466.34 392.72,464.84 Q391.70,463.34 390.81,461.78 Q389.91,460.22 389.59,458.46 Q389.27,456.70 389.38,454.89 Q389.50,453.08 390.44,451.48 Q391.37,449.89 392.41,448.34 Q393.45,446.80 395.20,445.94 Q396.95,445.09 398.76,444.52 Q400.56,443.95 402.43,443.55 Q404.30,443.14 406.26,443.24 Q408.22,443.34 410.05,444.03 Q411.87,444.73 413.16,446.08 Q414.45,447.44 415.69,448.74 Q416.94,450.04 417.68,451.64 Q418.41,453.25 418.96,454.97Z" fill="none" stroke="#52509a" stroke-width="2" opacity="0.9" filter="url(#bl0)"/>
</g>
<path d="M419.55,454.90 Q420.13,456.70 419.79,458.56 Q419.45,460.42 418.54,462.08 Q417.63,463.75 416.31,465.12 Q415.00,466.50 413.58,467.83 Q412.16,469.17 410.31,470.05 Q408.46,470.93 406.38,470.87 Q404.30,470.82 402.24,470.81 Q400.18,470.80 398.51,469.67 Q396.84,468.54 395.08,467.65 Q393.32,466.76 392.26,465.20 Q391.20,463.63 390.27,462.00 Q389.34,460.37 389.00,458.54 Q388.66,456.70 388.78,454.81 Q388.90,452.92 389.88,451.25 Q390.85,449.59 391.93,447.97 Q393.02,446.36 394.84,445.47 Q396.66,444.57 398.53,443.98 Q400.41,443.39 402.35,442.97 Q404.30,442.54 406.34,442.64 Q408.38,442.75 410.28,443.47 Q412.18,444.20 413.52,445.61 Q414.85,447.03 416.15,448.39 Q417.45,449.74 418.22,451.42 Q418.98,453.10 419.55,454.90Z" fill="none" stroke="#b2e0f4" stroke-width="0.8"/>
<clipPath id="c203"><path d="M435.32,437.42 Q435.28,439.70 435.48,442.03 Q435.68,444.35 434.72,446.44 Q433.77,448.52 432.31,450.16 Q430.85,451.79 429.42,453.49 Q427.98,455.19 425.98,455.96 Q423.97,456.73 421.89,457.20 Q419.80,457.66 417.71,457.21 Q415.62,456.75 413.64,455.94 Q411.66,455.13 409.95,453.74 Q408.24,452.35 407.18,450.34 Q406.12,448.34 405.48,446.21 Q404.84,444.08 404.07,441.89 Q403.29,439.70 404.05,437.50 Q404.82,435.31 405.35,433.11 Q405.88,430.91 406.96,428.87 Q408.04,426.84 409.97,425.78 Q411.90,424.73 413.82,423.92 Q415.74,423.12 417.77,422.74 Q419.80,422.36 421.82,422.78 Q423.84,423.20 425.90,423.72 Q427.96,424.24 429.45,425.88 Q430.93,427.53 432.06,429.39 Q433.18,431.25 434.28,433.19 Q435.37,435.14 435.32,437.42Z"/></clipPath>
<path d="M436.39,437.27 Q436.34,439.70 436.55,442.17 Q436.77,444.65 435.75,446.86 Q434.73,449.07 433.17,450.81 Q431.61,452.55 430.08,454.36 Q428.54,456.17 426.40,456.99 Q424.26,457.80 422.03,458.30 Q419.80,458.79 417.57,458.31 Q415.33,457.83 413.22,456.96 Q411.10,456.10 409.27,454.62 Q407.44,453.14 406.31,451.01 Q405.18,448.88 404.50,446.62 Q403.82,444.36 402.99,442.03 Q402.16,439.70 402.97,437.37 Q403.79,435.03 404.36,432.70 Q404.92,430.36 406.08,428.19 Q407.23,426.03 409.29,424.91 Q411.35,423.78 413.41,422.93 Q415.46,422.08 417.63,421.68 Q419.80,421.27 421.96,421.72 Q424.12,422.16 426.32,422.72 Q428.52,423.27 430.11,425.02 Q431.70,426.76 432.90,428.74 Q434.10,430.72 435.27,432.78 Q436.44,434.85 436.39,437.27Z" fill="#b2e0f4" filter="url(#bl0)"/>
<g clip-path="url(#c203)">
<path d="M435.32,437.42 Q435.28,439.70 435.48,442.03 Q435.68,444.35 434.72,446.44 Q433.77,448.52 432.31,450.16 Q430.85,451.79 429.42,453.49 Q427.98,455.19 425.98,455.96 Q423.97,456.73 421.89,457.20 Q419.80,457.66 417.71,457.21 Q415.62,456.75 413.64,455.94 Q411.66,455.13 409.95,453.74 Q408.24,452.35 407.18,450.34 Q406.12,448.34 405.48,446.21 Q404.84,444.08 404.07,441.89 Q403.29,439.70 404.05,437.50 Q404.82,435.31 405.35,433.11 Q405.88,430.91 406.96,428.87 Q408.04,426.84 409.97,425.78 Q411.90,424.73 413.82,423.92 Q415.74,423.12 417.77,422.74 Q419.80,422.36 421.82,422.78 Q423.84,423.20 425.90,423.72 Q427.96,424.24 429.45,425.88 Q430.93,427.53 432.06,429.39 Q433.18,431.25 434.28,433.19 Q435.37,435.14 435.32,437.42Z" fill="#8272b8"/>
<ellipse cx="419.80" cy="441.70" rx="12.80" ry="14.00" fill="#9a4c9e" opacity="0.54" filter="url(#bl1)"/>
<rect x="400.8" y="419.2" width="38.0" height="41.0" fill="#000" filter="url(#mot)" opacity="0.38"/>
<path d="M434.74,437.50 Q434.70,439.70 434.89,441.95 Q435.08,444.19 434.16,446.21 Q433.24,448.22 431.84,449.80 Q430.44,451.38 429.06,453.02 Q427.67,454.66 425.74,455.41 Q423.82,456.15 421.81,456.60 Q419.80,457.04 417.79,456.61 Q415.78,456.17 413.87,455.38 Q411.96,454.60 410.32,453.26 Q408.67,451.91 407.65,449.98 Q406.63,448.04 406.02,445.99 Q405.41,443.93 404.66,441.82 Q403.91,439.70 404.64,437.58 Q405.38,435.46 405.89,433.34 Q406.40,431.21 407.44,429.25 Q408.48,427.28 410.34,426.26 Q412.19,425.24 414.04,424.46 Q415.89,423.69 417.85,423.32 Q419.80,422.96 421.75,423.36 Q423.69,423.76 425.67,424.27 Q427.65,424.77 429.08,426.36 Q430.51,427.94 431.60,429.74 Q432.68,431.54 433.74,433.42 Q434.79,435.29 434.74,437.50Z" fill="none" stroke="#52509a" stroke-width="2" opacity="0.9" filter="url(#bl0)"/>
</g>
<path d="M435.32,437.42 Q435.28,439.70 435.48,442.03 Q435.68,444.35 434.72,446.44 Q433.77,448.52 432.31,450.16 Q430.85,451.79 429.42,453.49 Q427.98,455.19 425.98,455.96 Q423.97,456.73 421.89,457.20 Q419.80,457.66 417.71,457.21 Q415.62,456.75 413.64,455.94 Q411.66,455.13 409.95,453.74 Q408.24,452.35 407.18,450.34 Q406.12,448.34 405.48,446.21 Q404.84,444.08 404.07,441.89 Q403.29,439.70 404.05,437.50 Q404.82,435.31 405.35,433.11 Q405.88,430.91 406.96,428.87 Q408.04,426.84 409.97,425.78 Q411.90,424.73 413.82,423.92 Q415.74,423.12 417.77,422.74 Q419.80,422.36 421.82,422.78 Q423.84,423.20 425.90,423.72 Q427.96,424.24 429.45,425.88 Q430.93,427.53 432.06,429.39 Q433.18,431.25 434.28,433.19 Q435.37,435.14 435.32,437.42Z" fill="none" stroke="#b2e0f4" stroke-width="0.8"/>
<clipPath id="c204"><path d="M459.77,440.91 Q459.79,442.70 459.40,444.39 Q459.01,446.08 458.59,447.79 Q458.17,449.50 456.92,450.73 Q455.67,451.97 454.40,453.17 Q453.14,454.37 451.49,454.97 Q449.85,455.56 448.12,455.99 Q446.40,456.41 444.70,455.90 Q443.00,455.38 441.20,455.11 Q439.40,454.83 438.29,453.37 Q437.18,451.92 436.15,450.57 Q435.11,449.22 434.15,447.73 Q433.18,446.24 432.78,444.47 Q432.38,442.70 432.68,440.90 Q432.98,439.10 433.69,437.44 Q434.41,435.77 435.76,434.60 Q437.12,433.42 438.47,432.36 Q439.81,431.29 441.39,430.58 Q442.96,429.87 444.68,429.68 Q446.40,429.48 448.10,429.74 Q449.80,430.00 451.42,430.60 Q453.04,431.19 454.45,432.22 Q455.85,433.25 456.89,434.65 Q457.93,436.05 458.84,437.58 Q459.76,439.12 459.77,440.91Z"/></clipPath>
<path d="M460.86,440.76 Q460.88,442.70 460.46,444.53 Q460.03,446.35 459.58,448.20 Q459.13,450.05 457.77,451.38 Q456.42,452.72 455.05,454.02 Q453.69,455.33 451.91,455.97 Q450.13,456.61 448.26,457.07 Q446.40,457.53 444.56,456.97 Q442.72,456.42 440.78,456.12 Q438.83,455.82 437.63,454.24 Q436.43,452.67 435.31,451.21 Q434.19,449.75 433.15,448.14 Q432.10,446.53 431.67,444.62 Q431.23,442.70 431.56,440.76 Q431.89,438.81 432.66,437.01 Q433.43,435.21 434.90,433.94 Q436.36,432.66 437.82,431.51 Q439.28,430.36 440.98,429.60 Q442.68,428.83 444.54,428.62 Q446.40,428.41 448.24,428.69 Q450.08,428.97 451.83,429.61 Q453.59,430.25 455.10,431.37 Q456.62,432.48 457.74,433.99 Q458.87,435.50 459.86,437.17 Q460.85,438.83 460.86,440.76Z" fill="#b2e0f4" filter="url(#bl0)"/>
<g clip-path="url(#c204)">
<path d="M459.77,440.91 Q459.79,442.70 459.40,444.39 Q459.01,446.08 458.59,447.79 Q458.17,449.50 456.92,450.73 Q455.67,451.97 454.40,453.17 Q453.14,454.37 451.49,454.97 Q449.85,455.56 448.12,455.99 Q446.40,456.41 444.70,455.90 Q443.00,455.38 441.20,455.11 Q439.40,454.83 438.29,453.37 Q437.18,451.92 436.15,450.57 Q435.11,449.22 434.15,447.73 Q433.18,446.24 432.78,444.47 Q432.38,442.70 432.68,440.90 Q432.98,439.10 433.69,437.44 Q434.41,435.77 435.76,434.60 Q437.12,433.42 438.47,432.36 Q439.81,431.29 441.39,430.58 Q442.96,429.87 444.68,429.68 Q446.40,429.48 448.10,429.74 Q449.80,430.00 451.42,430.60 Q453.04,431.19 454.45,432.22 Q455.85,433.25 456.89,434.65 Q457.93,436.05 458.84,437.58 Q459.76,439.12 459.77,440.91Z" fill="#8272b8"/>
<ellipse cx="446.40" cy="442.70" rx="8.10" ry="8.10" fill="#9a4c9e" opacity="0.21" filter="url(#bl1)"/>
<rect x="429.9" y="426.2" width="33.0" height="33.0" fill="#000" filter="url(#mot)" opacity="0.38"/>
<path d="M459.18,440.99 Q459.19,442.70 458.82,444.31 Q458.45,445.93 458.05,447.56 Q457.65,449.19 456.45,450.37 Q455.25,451.55 454.05,452.70 Q452.84,453.86 451.27,454.42 Q449.69,454.99 448.05,455.40 Q446.40,455.80 444.78,455.31 Q443.15,454.82 441.43,454.55 Q439.71,454.29 438.65,452.90 Q437.59,451.51 436.60,450.22 Q435.61,448.93 434.69,447.51 Q433.77,446.09 433.38,444.39 Q433.00,442.70 433.29,440.98 Q433.58,439.26 434.26,437.67 Q434.94,436.08 436.24,434.96 Q437.53,433.83 438.82,432.82 Q440.11,431.80 441.61,431.12 Q443.12,430.44 444.76,430.26 Q446.40,430.07 448.03,430.32 Q449.65,430.57 451.20,431.14 Q452.75,431.70 454.09,432.69 Q455.43,433.67 456.42,435.00 Q457.41,436.34 458.29,437.81 Q459.17,439.28 459.18,440.99Z" fill="none" stroke="#52509a" stroke-width="2" opacity="0.9" filter="url(#bl0)"/>
</g>
<path d="M459.77,440.91 Q459.79,442.70 459.40,444.39 Q459.01,446.08 458.59,447.79 Q458.17,449.50 456.92,450.73 Q455.67,451.97 454.40,453.17 Q453.14,454.37 451.49,454.97 Q449.85,455.56 448.12,455.99 Q446.40,456.41 444.70,455.90 Q443.00,455.38 441.20,455.11 Q439.40,454.83 438.29,453.37 Q437.18,451.92 436.15,450.57 Q435.11,449.22 434.15,447.73 Q433.18,446.24 432.78,444.47 Q432.38,442.70 432.68,440.90 Q432.98,439.10 433.69,437.44 Q434.41,435.77 435.76,434.60 Q437.12,433.42 438.47,432.36 Q439.81,431.29 441.39,430.58 Q442.96,429.87 444.68,429.68 Q446.40,429.48 448.10,429.74 Q449.80,430.00 451.42,430.60 Q453.04,431.19 454.45,432.22 Q455.85,433.25 456.89,434.65 Q457.93,436.05 458.84,437.58 Q459.76,439.12 459.77,440.91Z" fill="none" stroke="#b2e0f4" stroke-width="0.8"/>
<clipPath id="c205"><path d="M449.74,464.47 Q449.91,466.30 449.81,468.14 Q449.72,469.99 448.74,471.65 Q447.77,473.32 446.39,474.76 Q445.02,476.20 443.37,477.47 Q441.72,478.74 439.51,479.13 Q437.30,479.53 435.15,480.18 Q433.00,480.83 430.80,480.34 Q428.59,479.84 426.68,478.94 Q424.77,478.04 422.76,477.21 Q420.75,476.39 419.67,474.77 Q418.60,473.15 417.28,471.60 Q415.96,470.06 415.85,468.18 Q415.75,466.30 416.36,464.53 Q416.97,462.76 417.35,460.90 Q417.73,459.04 419.44,457.79 Q421.15,456.54 422.67,455.14 Q424.19,453.74 426.48,453.52 Q428.77,453.31 430.89,452.92 Q433.00,452.53 435.22,452.58 Q437.44,452.64 439.40,453.52 Q441.35,454.39 443.11,455.46 Q444.86,456.53 446.06,458.03 Q447.26,459.52 448.41,461.08 Q449.56,462.65 449.74,464.47Z"/></clipPath>
<path d="M450.82,464.33 Q451.01,466.30 450.90,468.29 Q450.80,470.28 449.76,472.08 Q448.72,473.87 447.26,475.42 Q445.80,476.97 444.04,478.35 Q442.29,479.72 439.93,480.14 Q437.58,480.56 435.29,481.27 Q433.00,481.97 430.65,481.44 Q428.31,480.91 426.27,479.93 Q424.24,478.96 422.10,478.07 Q419.96,477.18 418.81,475.43 Q417.67,473.69 416.26,472.02 Q414.86,470.36 414.74,468.33 Q414.63,466.30 415.28,464.39 Q415.93,462.48 416.34,460.48 Q416.74,458.47 418.56,457.12 Q420.38,455.77 422.00,454.26 Q423.62,452.75 426.06,452.52 Q428.50,452.29 430.75,451.87 Q433.00,451.44 435.37,451.51 Q437.73,451.57 439.81,452.51 Q441.89,453.46 443.76,454.61 Q445.63,455.76 446.90,457.38 Q448.18,458.99 449.40,460.67 Q450.63,462.36 450.82,464.33Z" fill="#b2e0f4" filter="url(#bl0)"/>
<g clip-path="url(#c205)">
<path d="M449.74,464.47 Q449.91,466.30 449.81,468.14 Q449.72,469.99 448.74,471.65 Q447.77,473.32 446.39,474.76 Q445.02,476.20 443.37,477.47 Q441.72,478.74 439.51,479.13 Q437.30,479.53 435.15,480.18 Q433.00,480.83 430.80,480.34 Q428.59,479.84 426.68,478.94 Q424.77,478.04 422.76,477.21 Q420.75,476.39 419.67,474.77 Q418.60,473.15 417.28,471.60 Q415.96,470.06 415.85,468.18 Q415.75,466.30 416.36,464.53 Q416.97,462.76 417.35,460.90 Q417.73,459.04 419.44,457.79 Q421.15,456.54 422.67,455.14 Q424.19,453.74 426.48,453.52 Q428.77,453.31 430.89,452.92 Q433.00,452.53 435.22,452.58 Q437.44,452.64 439.40,453.52 Q441.35,454.39 443.11,455.46 Q444.86,456.53 446.06,458.03 Q447.26,459.52 448.41,461.08 Q449.56,462.65 449.74,464.47Z" fill="#8272b8"/>
<ellipse cx="433.00" cy="466.30" rx="13.60" ry="11.20" fill="#9a4c9e" opacity="0.45" filter="url(#bl1)"/>
<rect x="413.0" y="449.3" width="40.0" height="34.0" fill="#000" filter="url(#mot)" opacity="0.38"/>
<path d="M449.14,464.55 Q449.31,466.30 449.22,468.07 Q449.13,469.83 448.18,471.42 Q447.24,473.02 445.92,474.40 Q444.59,475.77 443.00,476.99 Q441.42,478.21 439.28,478.58 Q437.15,478.96 435.08,479.58 Q433.00,480.21 430.87,479.74 Q428.75,479.26 426.91,478.40 Q425.06,477.53 423.12,476.74 Q421.18,475.96 420.14,474.41 Q419.11,472.85 417.83,471.38 Q416.56,469.90 416.46,468.10 Q416.36,466.30 416.95,464.61 Q417.54,462.91 417.90,461.13 Q418.27,459.35 419.92,458.16 Q421.57,456.96 423.04,455.62 Q424.50,454.27 426.71,454.07 Q428.92,453.87 430.96,453.49 Q433.00,453.12 435.14,453.17 Q437.29,453.23 439.17,454.06 Q441.05,454.90 442.75,455.93 Q444.44,456.95 445.60,458.38 Q446.75,459.81 447.86,461.31 Q448.98,462.80 449.14,464.55Z" fill="none" stroke="#52509a" stroke-width="2" opacity="0.9" filter="url(#bl0)"/>
</g>
<path d="M449.74,464.47 Q449.91,466.30 449.81,468.14 Q449.72,469.99 448.74,471.65 Q447.77,473.32 446.39,474.76 Q445.02,476.20 443.37,477.47 Q441.72,478.74 439.51,479.13 Q437.30,479.53 435.15,480.18 Q433.00,480.83 430.80,480.34 Q428.59,479.84 426.68,478.94 Q424.77,478.04 422.76,477.21 Q420.75,476.39 419.67,474.77 Q418.60,473.15 417.28,471.60 Q415.96,470.06 415.85,468.18 Q415.75,466.30 416.36,464.53 Q416.97,462.76 417.35,460.90 Q417.73,459.04 419.44,457.79 Q421.15,456.54 422.67,455.14 Q424.19,453.74 426.48,453.52 Q428.77,453.31 430.89,452.92 Q433.00,452.53 435.22,452.58 Q437.44,452.64 439.40,453.52 Q441.35,454.39 443.11,455.46 Q444.86,456.53 446.06,458.03 Q447.26,459.52 448.41,461.08 Q449.56,462.65 449.74,464.47Z" fill="none" stroke="#b2e0f4" stroke-width="0.8"/>
<clipPath id="c206"><path d="M469.05,460.92 Q469.21,462.70 469.15,464.51 Q469.09,466.32 468.67,468.13 Q468.24,469.93 467.27,471.47 Q466.31,473.02 465.00,474.20 Q463.70,475.39 462.16,476.16 Q460.63,476.93 458.97,476.74 Q457.30,476.54 455.73,476.35 Q454.15,476.15 452.62,475.59 Q451.09,475.02 449.76,473.94 Q448.43,472.86 447.63,471.24 Q446.83,469.63 445.96,468.04 Q445.09,466.45 445.11,464.57 Q445.12,462.70 445.14,460.84 Q445.15,458.97 445.79,457.25 Q446.44,455.52 447.55,454.17 Q448.67,452.82 449.90,451.65 Q451.14,450.48 452.59,449.63 Q454.04,448.78 455.67,448.61 Q457.30,448.44 458.88,448.82 Q460.46,449.20 462.09,449.59 Q463.72,449.97 464.84,451.38 Q465.96,452.78 466.92,454.24 Q467.88,455.70 468.39,457.42 Q468.89,459.14 469.05,460.92Z"/></clipPath>
<path d="M470.10,460.78 Q470.27,462.70 470.20,464.65 Q470.14,466.60 469.67,468.55 Q469.21,470.49 468.16,472.15 Q467.11,473.81 465.69,475.09 Q464.26,476.37 462.59,477.20 Q460.93,478.04 459.11,477.83 Q457.30,477.61 455.59,477.40 Q453.87,477.19 452.20,476.59 Q450.54,475.98 449.09,474.81 Q447.64,473.65 446.77,471.91 Q445.90,470.16 444.95,468.45 Q444.01,466.74 444.03,464.72 Q444.04,462.70 444.06,460.69 Q444.07,458.68 444.77,456.82 Q445.47,454.96 446.69,453.51 Q447.90,452.05 449.25,450.79 Q450.59,449.53 452.17,448.62 Q453.75,447.70 455.53,447.52 Q457.30,447.34 459.02,447.74 Q460.74,448.15 462.51,448.57 Q464.29,448.99 465.51,450.50 Q466.73,452.01 467.77,453.59 Q468.82,455.16 469.37,457.01 Q469.92,458.87 470.10,460.78Z" fill="#b2e0f4" filter="url(#bl0)"/>
<g clip-path="url(#c206)">
<path d="M469.05,460.92 Q469.21,462.70 469.15,464.51 Q469.09,466.32 468.67,468.13 Q468.24,469.93 467.27,471.47 Q466.31,473.02 465.00,474.20 Q463.70,475.39 462.16,476.16 Q460.63,476.93 458.97,476.74 Q457.30,476.54 455.73,476.35 Q454.15,476.15 452.62,475.59 Q451.09,475.02 449.76,473.94 Q448.43,472.86 447.63,471.24 Q446.83,469.63 445.96,468.04 Q445.09,466.45 445.11,464.57 Q445.12,462.70 445.14,460.84 Q445.15,458.97 445.79,457.25 Q446.44,455.52 447.55,454.17 Q448.67,452.82 449.90,451.65 Q451.14,450.48 452.59,449.63 Q454.04,448.78 455.67,448.61 Q457.30,448.44 458.88,448.82 Q460.46,449.20 462.09,449.59 Q463.72,449.97 464.84,451.38 Q465.96,452.78 466.92,454.24 Q467.88,455.70 468.39,457.42 Q468.89,459.14 469.05,460.92Z" fill="#8272b8"/>
<ellipse cx="457.30" cy="462.70" rx="9.92" ry="11.36" fill="#9a4c9e" opacity="0.60" filter="url(#bl1)"/>
<rect x="441.9" y="445.5" width="30.8" height="34.4" fill="#000" filter="url(#mot)" opacity="0.38"/>
<path d="M468.49,461.00 Q468.64,462.70 468.58,464.43 Q468.52,466.17 468.12,467.90 Q467.71,469.63 466.79,471.10 Q465.87,472.58 464.63,473.72 Q463.39,474.85 461.93,475.59 Q460.47,476.33 458.88,476.14 Q457.30,475.96 455.80,475.77 Q454.30,475.58 452.85,475.04 Q451.39,474.50 450.12,473.47 Q448.86,472.43 448.09,470.88 Q447.33,469.33 446.51,467.81 Q445.68,466.29 445.70,464.49 Q445.71,462.70 445.73,460.91 Q445.74,459.13 446.35,457.48 Q446.96,455.82 448.02,454.53 Q449.09,453.23 450.26,452.11 Q451.44,450.99 452.82,450.18 Q454.20,449.37 455.75,449.21 Q457.30,449.04 458.80,449.41 Q460.31,449.77 461.86,450.14 Q463.41,450.51 464.47,451.86 Q465.54,453.20 466.46,454.60 Q467.37,456.00 467.85,457.65 Q468.33,459.29 468.49,461.00Z" fill="none" stroke="#52509a" stroke-width="2" opacity="0.9" filter="url(#bl0)"/>
</g>
<path d="M469.05,460.92 Q469.21,462.70 469.15,464.51 Q469.09,466.32 468.67,468.13 Q468.24,469.93 467.27,471.47 Q466.31,473.02 465.00,474.20 Q463.70,475.39 462.16,476.16 Q460.63,476.93 458.97,476.74 Q457.30,476.54 455.73,476.35 Q454.15,476.15 452.62,475.59 Q451.09,475.02 449.76,473.94 Q448.43,472.86 447.63,471.24 Q446.83,469.63 445.96,468.04 Q445.09,466.45 445.11,464.57 Q445.12,462.70 445.14,460.84 Q445.15,458.97 445.79,457.25 Q446.44,455.52 447.55,454.17 Q448.67,452.82 449.90,451.65 Q451.14,450.48 452.59,449.63 Q454.04,448.78 455.67,448.61 Q457.30,448.44 458.88,448.82 Q460.46,449.20 462.09,449.59 Q463.72,449.97 464.84,451.38 Q465.96,452.78 466.92,454.24 Q467.88,455.70 468.39,457.42 Q468.89,459.14 469.05,460.92Z" fill="none" stroke="#b2e0f4" stroke-width="0.8"/>
<clipPath id="c207"><path d="M461.88,484.89 Q462.01,487.00 461.82,489.10 Q461.63,491.20 460.86,493.21 Q460.09,495.23 458.36,496.64 Q456.63,498.06 454.85,499.27 Q453.06,500.48 451.11,501.57 Q449.17,502.67 446.88,502.74 Q444.60,502.80 442.31,502.75 Q440.03,502.70 437.84,501.97 Q435.66,501.24 434.19,499.58 Q432.73,497.91 431.21,496.41 Q429.69,494.91 428.96,492.98 Q428.22,491.04 427.83,489.02 Q427.44,487.00 427.33,484.86 Q427.21,482.72 428.55,480.95 Q429.89,479.19 431.15,477.49 Q432.40,475.78 434.26,474.63 Q436.12,473.49 438.17,472.73 Q440.22,471.98 442.41,471.74 Q444.60,471.51 446.77,471.81 Q448.94,472.11 451.22,472.47 Q453.50,472.82 455.30,474.17 Q457.09,475.52 458.28,477.31 Q459.48,479.10 460.62,480.94 Q461.76,482.77 461.88,484.89Z"/></clipPath>
<path d="M462.97,484.74 Q463.11,487.00 462.91,489.24 Q462.71,491.49 461.89,493.64 Q461.07,495.79 459.23,497.31 Q457.39,498.82 455.49,500.11 Q453.60,501.41 451.53,502.58 Q449.45,503.75 447.03,503.82 Q444.60,503.89 442.17,503.83 Q439.74,503.77 437.41,503.00 Q435.09,502.22 433.54,500.44 Q431.98,498.67 430.36,497.06 Q428.75,495.46 427.97,493.39 Q427.19,491.31 426.77,489.16 Q426.36,487.00 426.24,484.71 Q426.11,482.42 427.54,480.54 Q428.96,478.65 430.29,476.83 Q431.63,475.01 433.60,473.78 Q435.58,472.56 437.76,471.75 Q439.95,470.95 442.27,470.69 Q444.60,470.44 446.91,470.76 Q449.21,471.09 451.64,471.47 Q454.06,471.85 455.97,473.29 Q457.88,474.73 459.15,476.64 Q460.42,478.56 461.63,480.52 Q462.84,482.48 462.97,484.74Z" fill="#b2e0f4" filter="url(#bl0)"/>
<g clip-path="url(#c207)">
<path d="M461.88,484.89 Q462.01,487.00 461.82,489.10 Q461.63,491.20 460.86,493.21 Q460.09,495.23 458.36,496.64 Q456.63,498.06 454.85,499.27 Q453.06,500.48 451.11,501.57 Q449.17,502.67 446.88,502.74 Q444.60,502.80 442.31,502.75 Q440.03,502.70 437.84,501.97 Q435.66,501.24 434.19,499.58 Q432.73,497.91 431.21,496.41 Q429.69,494.91 428.96,492.98 Q428.22,491.04 427.83,489.02 Q427.44,487.00 427.33,484.86 Q427.21,482.72 428.55,480.95 Q429.89,479.19 431.15,477.49 Q432.40,475.78 434.26,474.63 Q436.12,473.49 438.17,472.73 Q440.22,471.98 442.41,471.74 Q444.60,471.51 446.77,471.81 Q448.94,472.11 451.22,472.47 Q453.50,472.82 455.30,474.17 Q457.09,475.52 458.28,477.31 Q459.48,479.10 460.62,480.94 Q461.76,482.77 461.88,484.89Z" fill="#8272b8"/>
<ellipse cx="444.60" cy="487.00" rx="13.92" ry="12.80" fill="#9a4c9e" opacity="0.48" filter="url(#bl1)"/>
<rect x="424.2" y="468.0" width="40.8" height="38.0" fill="#000" filter="url(#mot)" opacity="0.38"/>
<path d="M461.29,484.97 Q461.41,487.00 461.23,489.02 Q461.05,491.04 460.30,492.98 Q459.56,494.92 457.89,496.28 Q456.22,497.65 454.49,498.81 Q452.77,499.97 450.89,501.03 Q449.01,502.08 446.80,502.15 Q444.60,502.21 442.39,502.16 Q440.18,502.11 438.07,501.41 Q435.97,500.71 434.55,499.11 Q433.14,497.51 431.67,496.06 Q430.21,494.62 429.50,492.75 Q428.79,490.88 428.41,488.94 Q428.04,487.00 427.92,484.94 Q427.81,482.88 429.10,481.18 Q430.40,479.48 431.61,477.84 Q432.82,476.20 434.61,475.10 Q436.41,473.99 438.39,473.27 Q440.37,472.54 442.49,472.31 Q444.60,472.09 446.69,472.38 Q448.79,472.67 450.99,473.01 Q453.19,473.36 454.93,474.65 Q456.66,475.95 457.81,477.67 Q458.97,479.40 460.07,481.16 Q461.16,482.93 461.29,484.97Z" fill="none" stroke="#52509a" stroke-width="2" opacity="0.9" filter="url(#bl0)"/>
</g>
<path d="M461.88,484.89 Q462.01,487.00 461.82,489.10 Q461.63,491.20 460.86,493.21 Q460.09,495.23 458.36,496.64 Q456.63,498.06 454.85,499.27 Q453.06,500.48 451.11,501.57 Q449.17,502.67 446.88,502.74 Q444.60,502.80 442.31,502.75 Q440.03,502.70 437.84,501.97 Q435.66,501.24 434.19,499.58 Q432.73,497.91 431.21,496.41 Q429.69,494.91 428.96,492.98 Q428.22,491.04 427.83,489.02 Q427.44,487.00 427.33,484.86 Q427.21,482.72 428.55,480.95 Q429.89,479.19 431.15,477.49 Q432.40,475.78 434.26,474.63 Q436.12,473.49 438.17,472.73 Q440.22,471.98 442.41,471.74 Q444.60,471.51 446.77,471.81 Q448.94,472.11 451.22,472.47 Q453.50,472.82 455.30,474.17 Q457.09,475.52 458.28,477.31 Q459.48,479.10 460.62,480.94 Q461.76,482.77 461.88,484.89Z" fill="none" stroke="#b2e0f4" stroke-width="0.8"/>
<clipPath id="c208"><path d="M395.23,474.67 Q395.65,476.66 396.03,478.69 Q396.42,480.71 395.91,482.53 Q395.39,484.34 395.13,486.30 Q394.86,488.26 393.79,489.44 Q392.71,490.62 391.66,491.78 Q390.60,492.93 389.29,493.60 Q387.98,494.27 386.52,493.90 Q385.07,493.53 383.63,493.24 Q382.19,492.95 380.79,492.05 Q379.38,491.15 378.32,489.52 Q377.26,487.90 376.50,486.06 Q375.75,484.22 375.29,482.27 Q374.84,480.33 374.31,478.29 Q373.79,476.25 374.30,474.39 Q374.80,472.54 375.15,470.61 Q375.49,468.69 376.50,467.38 Q377.50,466.08 378.74,465.31 Q379.98,464.55 381.25,463.91 Q382.51,463.27 383.92,463.30 Q385.33,463.33 386.77,463.73 Q388.20,464.13 389.44,465.35 Q390.68,466.58 391.88,467.87 Q393.08,469.17 393.95,470.93 Q394.81,472.69 395.23,474.67Z"/></clipPath>
<path d="M396.26,474.35 Q396.71,476.47 397.13,478.64 Q397.54,480.81 396.96,482.76 Q396.39,484.70 396.09,486.81 Q395.78,488.91 394.59,490.18 Q393.41,491.45 392.24,492.69 Q391.06,493.93 389.62,494.66 Q388.18,495.38 386.57,494.99 Q384.97,494.60 383.39,494.30 Q381.80,494.00 380.27,493.04 Q378.73,492.08 377.57,490.35 Q376.41,488.62 375.59,486.65 Q374.76,484.67 374.27,482.59 Q373.78,480.51 373.22,478.33 Q372.65,476.15 373.22,474.16 Q373.79,472.17 374.18,470.10 Q374.56,468.04 375.68,466.64 Q376.79,465.23 378.16,464.41 Q379.53,463.58 380.93,462.89 Q382.32,462.19 383.88,462.22 Q385.43,462.24 387.00,462.66 Q388.58,463.08 389.94,464.39 Q391.30,465.70 392.61,467.08 Q393.92,468.46 394.87,470.34 Q395.81,472.22 396.26,474.35Z" fill="#b2e0f4" filter="url(#bl0)"/>
<g clip-path="url(#c208)">
<path d="M395.23,474.67 Q395.65,476.66 396.03,478.69 Q396.42,480.71 395.91,482.53 Q395.39,484.34 395.13,486.30 Q394.86,488.26 393.79,489.44 Q392.71,490.62 391.66,491.78 Q390.60,492.93 389.29,493.60 Q387.98,494.27 386.52,493.90 Q385.07,493.53 383.63,493.24 Q382.19,492.95 380.79,492.05 Q379.38,491.15 378.32,489.52 Q377.26,487.90 376.50,486.06 Q375.75,484.22 375.29,482.27 Q374.84,480.33 374.31,478.29 Q373.79,476.25 374.30,474.39 Q374.80,472.54 375.15,470.61 Q375.49,468.69 376.50,467.38 Q377.50,466.08 378.74,465.31 Q379.98,464.55 381.25,463.91 Q382.51,463.27 383.92,463.30 Q385.33,463.33 386.77,463.73 Q388.20,464.13 389.44,465.35 Q390.68,466.58 391.88,467.87 Q393.08,469.17 393.95,470.93 Q394.81,472.69 395.23,474.67Z" fill="#8272b8"/>
<ellipse cx="385.20" cy="477.50" rx="8.64" ry="12.48" fill="#9a4c9e" opacity="0.60" filter="url(#bl1)"/>
<rect x="371.4" y="459.9" width="27.6" height="37.2" fill="#000" filter="url(#mot)" opacity="0.38"/>
<path d="M394.67,474.85 Q395.07,476.76 395.44,478.71 Q395.81,480.66 395.33,482.40 Q394.85,484.14 394.60,486.03 Q394.36,487.91 393.35,489.04 Q392.34,490.17 391.34,491.28 Q390.34,492.38 389.11,493.02 Q387.87,493.66 386.50,493.30 Q385.12,492.94 383.76,492.66 Q382.39,492.38 381.07,491.51 Q379.74,490.64 378.73,489.08 Q377.72,487.51 377.00,485.74 Q376.28,483.97 375.85,482.10 Q375.41,480.23 374.91,478.26 Q374.41,476.30 374.88,474.52 Q375.36,472.74 375.68,470.89 Q376.00,469.04 376.94,467.79 Q377.89,466.54 379.06,465.81 Q380.23,465.08 381.42,464.46 Q382.62,463.85 383.95,463.89 Q385.28,463.92 386.64,464.31 Q387.99,464.70 389.17,465.88 Q390.35,467.06 391.48,468.31 Q392.62,469.55 393.44,471.25 Q394.27,472.94 394.67,474.85Z" fill="none" stroke="#52509a" stroke-width="2" opacity="0.9" filter="url(#bl0)"/>
</g>
<path d="M395.23,474.67 Q395.65,476.66 396.03,478.69 Q396.42,480.71 395.91,482.53 Q395.39,484.34 395.13,486.30 Q394.86,488.26 393.79,489.44 Q392.71,490.62 391.66,491.78 Q390.60,492.93 389.29,493.60 Q387.98,494.27 386.52,493.90 Q385.07,493.53 383.63,493.24 Q382.19,492.95 380.79,492.05 Q379.38,491.15 378.32,489.52 Q377.26,487.90 376.50,486.06 Q375.75,484.22 375.29,482.27 Q374.84,480.33 374.31,478.29 Q373.79,476.25 374.30,474.39 Q374.80,472.54 375.15,470.61 Q375.49,468.69 376.50,467.38 Q377.50,466.08 378.74,465.31 Q379.98,464.55 381.25,463.91 Q382.51,463.27 383.92,463.30 Q385.33,463.33 386.77,463.73 Q388.20,464.13 389.44,465.35 Q390.68,466.58 391.88,467.87 Q393.08,469.17 393.95,470.93 Q394.81,472.69 395.23,474.67Z" fill="none" stroke="#b2e0f4" stroke-width="0.8"/>
<clipPath id="c209"><path d="M437.76,420.04 Q437.82,420.50 437.68,420.94 Q437.55,421.37 437.50,421.84 Q437.44,422.32 437.09,422.62 Q436.73,422.93 436.40,423.25 Q436.07,423.57 435.63,423.68 Q435.18,423.79 434.74,423.88 Q434.30,423.96 433.84,423.95 Q433.38,423.94 432.93,423.79 Q432.49,423.64 432.18,423.29 Q431.86,422.94 431.60,422.57 Q431.34,422.21 431.19,421.79 Q431.04,421.37 430.92,420.94 Q430.80,420.50 430.89,420.05 Q430.97,419.61 431.18,419.21 Q431.38,418.82 431.64,418.46 Q431.90,418.10 432.22,417.78 Q432.54,417.45 432.96,417.27 Q433.38,417.08 433.84,417.02 Q434.30,416.96 434.76,417.00 Q435.22,417.05 435.62,417.29 Q436.02,417.52 436.36,417.81 Q436.70,418.10 437.04,418.41 Q437.38,418.72 437.54,419.15 Q437.71,419.59 437.76,420.04Z"/></clipPath>
<path d="M438.85,419.90 Q438.92,420.50 438.75,421.07 Q438.57,421.65 438.50,422.27 Q438.43,422.89 437.96,423.29 Q437.50,423.70 437.06,424.11 Q436.63,424.53 436.04,424.68 Q435.46,424.83 434.88,424.94 Q434.30,425.05 433.69,425.03 Q433.09,425.02 432.51,424.82 Q431.92,424.62 431.51,424.16 Q431.09,423.71 430.75,423.23 Q430.41,422.75 430.21,422.20 Q430.01,421.65 429.86,421.07 Q429.70,420.50 429.81,419.91 Q429.92,419.33 430.19,418.81 Q430.47,418.29 430.80,417.81 Q431.14,417.34 431.57,416.92 Q431.99,416.50 432.54,416.25 Q433.10,416.00 433.70,415.92 Q434.30,415.84 434.91,415.91 Q435.51,415.97 436.04,416.28 Q436.56,416.59 437.01,416.97 Q437.46,417.34 437.90,417.75 Q438.35,418.16 438.56,418.73 Q438.78,419.30 438.85,419.90Z" fill="#b2e0f4" filter="url(#bl0)"/>
<g clip-path="url(#c209)">
<path d="M437.76,420.04 Q437.82,420.50 437.68,420.94 Q437.55,421.37 437.50,421.84 Q437.44,422.32 437.09,422.62 Q436.73,422.93 436.40,423.25 Q436.07,423.57 435.63,423.68 Q435.18,423.79 434.74,423.88 Q434.30,423.96 433.84,423.95 Q433.38,423.94 432.93,423.79 Q432.49,423.64 432.18,423.29 Q431.86,422.94 431.60,422.57 Q431.34,422.21 431.19,421.79 Q431.04,421.37 430.92,420.94 Q430.80,420.50 430.89,420.05 Q430.97,419.61 431.18,419.21 Q431.38,418.82 431.64,418.46 Q431.90,418.10 432.22,417.78 Q432.54,417.45 432.96,417.27 Q433.38,417.08 433.84,417.02 Q434.30,416.96 434.76,417.00 Q435.22,417.05 435.62,417.29 Q436.02,417.52 436.36,417.81 Q436.70,418.10 437.04,418.41 Q437.38,418.72 437.54,419.15 Q437.71,419.59 437.76,420.04Z" fill="#8272b8"/>
<ellipse cx="434.30" cy="420.50" rx="2.80" ry="2.80" fill="#9a4c9e" opacity="0.42" filter="url(#bl1)"/>
<rect x="427.8" y="414.0" width="13.0" height="13.0" fill="#000" filter="url(#mot)" opacity="0.38"/>
<path d="M437.17,420.12 Q437.21,420.50 437.10,420.86 Q436.99,421.22 436.95,421.61 Q436.90,422.00 436.61,422.26 Q436.32,422.52 436.04,422.78 Q435.77,423.04 435.40,423.14 Q435.03,423.23 434.67,423.30 Q434.30,423.37 433.92,423.36 Q433.54,423.35 433.17,423.22 Q432.80,423.10 432.54,422.81 Q432.28,422.52 432.06,422.22 Q431.85,421.92 431.72,421.57 Q431.60,421.22 431.50,420.86 Q431.40,420.50 431.47,420.13 Q431.54,419.76 431.71,419.43 Q431.88,419.10 432.10,418.81 Q432.31,418.51 432.58,418.24 Q432.84,417.98 433.19,417.82 Q433.54,417.67 433.92,417.61 Q434.30,417.56 434.68,417.60 Q435.07,417.64 435.40,417.84 Q435.72,418.03 436.01,418.27 Q436.29,418.51 436.57,418.77 Q436.85,419.03 436.99,419.38 Q437.13,419.74 437.17,420.12Z" fill="none" stroke="#52509a" stroke-width="2" opacity="0.9" filter="url(#bl0)"/>
</g>
<path d="M437.76,420.04 Q437.82,420.50 437.68,420.94 Q437.55,421.37 437.50,421.84 Q437.44,422.32 437.09,422.62 Q436.73,422.93 436.40,423.25 Q436.07,423.57 435.63,423.68 Q435.18,423.79 434.74,423.88 Q434.30,423.96 433.84,423.95 Q433.38,423.94 432.93,423.79 Q432.49,423.64 432.18,423.29 Q431.86,422.94 431.60,422.57 Q431.34,422.21 431.19,421.79 Q431.04,421.37 430.92,420.94 Q430.80,420.50 430.89,420.05 Q430.97,419.61 431.18,419.21 Q431.38,418.82 431.64,418.46 Q431.90,418.10 432.22,417.78 Q432.54,417.45 432.96,417.27 Q433.38,417.08 433.84,417.02 Q434.30,416.96 434.76,417.00 Q435.22,417.05 435.62,417.29 Q436.02,417.52 436.36,417.81 Q436.70,418.10 437.04,418.41 Q437.38,418.72 437.54,419.15 Q437.71,419.59 437.76,420.04Z" fill="none" stroke="#b2e0f4" stroke-width="0.8"/>
<clipPath id="c210"><path d="M386.46,496.47 Q386.46,497.00 386.44,497.53 Q386.42,498.05 386.22,498.54 Q386.03,499.04 385.67,499.42 Q385.31,499.81 384.88,500.09 Q384.45,500.37 383.97,500.54 Q383.50,500.72 383.00,500.82 Q382.50,500.93 382.00,500.83 Q381.50,500.72 381.03,500.54 Q380.56,500.36 380.11,500.10 Q379.66,499.84 379.35,499.42 Q379.04,499.00 378.78,498.53 Q378.53,498.06 378.57,497.53 Q378.62,497.00 378.69,496.50 Q378.77,496.00 378.95,495.53 Q379.14,495.06 379.41,494.63 Q379.69,494.19 380.12,493.91 Q380.56,493.64 381.00,493.34 Q381.44,493.05 381.97,493.01 Q382.50,492.97 383.04,492.98 Q383.58,492.98 384.02,493.29 Q384.47,493.60 384.95,493.83 Q385.43,494.07 385.67,494.55 Q385.92,495.03 386.18,495.48 Q386.45,495.94 386.46,496.47Z"/></clipPath>
<path d="M387.54,496.33 Q387.55,497.00 387.53,497.67 Q387.50,498.34 387.25,498.97 Q387.00,499.60 386.54,500.09 Q386.08,500.58 385.53,500.94 Q384.98,501.30 384.38,501.52 Q383.77,501.74 383.13,501.88 Q382.50,502.01 381.86,501.88 Q381.23,501.74 380.63,501.52 Q380.02,501.29 379.45,500.95 Q378.88,500.62 378.49,500.08 Q378.09,499.55 377.76,498.95 Q377.44,498.36 377.49,497.68 Q377.55,497.00 377.65,496.36 Q377.74,495.72 377.98,495.13 Q378.21,494.53 378.57,493.97 Q378.92,493.42 379.47,493.06 Q380.02,492.71 380.59,492.34 Q381.15,491.97 381.83,491.92 Q382.50,491.87 383.19,491.87 Q383.87,491.88 384.44,492.27 Q385.01,492.66 385.62,492.96 Q386.24,493.26 386.55,493.87 Q386.86,494.48 387.20,495.07 Q387.54,495.65 387.54,496.33Z" fill="#b2e0f4" filter="url(#bl0)"/>
<g clip-path="url(#c210)">
<path d="M386.46,496.47 Q386.46,497.00 386.44,497.53 Q386.42,498.05 386.22,498.54 Q386.03,499.04 385.67,499.42 Q385.31,499.81 384.88,500.09 Q384.45,500.37 383.97,500.54 Q383.50,500.72 383.00,500.82 Q382.50,500.93 382.00,500.83 Q381.50,500.72 381.03,500.54 Q380.56,500.36 380.11,500.10 Q379.66,499.84 379.35,499.42 Q379.04,499.00 378.78,498.53 Q378.53,498.06 378.57,497.53 Q378.62,497.00 378.69,496.50 Q378.77,496.00 378.95,495.53 Q379.14,495.06 379.41,494.63 Q379.69,494.19 380.12,493.91 Q380.56,493.64 381.00,493.34 Q381.44,493.05 381.97,493.01 Q382.50,492.97 383.04,492.98 Q383.58,492.98 384.02,493.29 Q384.47,493.60 384.95,493.83 Q385.43,494.07 385.67,494.55 Q385.92,495.03 386.18,495.48 Q386.45,495.94 386.46,496.47Z" fill="#8272b8"/>
<ellipse cx="382.50" cy="497.00" rx="3.20" ry="3.20" fill="#9a4c9e" opacity="0.42" filter="url(#bl1)"/>
<rect x="375.5" y="490.0" width="14.0" height="14.0" fill="#000" filter="url(#mot)" opacity="0.38"/>
<path d="M385.86,496.55 Q385.87,497.00 385.85,497.45 Q385.83,497.89 385.66,498.31 Q385.50,498.73 385.19,499.06 Q384.89,499.39 384.52,499.63 Q384.15,499.87 383.75,500.01 Q383.35,500.16 382.92,500.25 Q382.50,500.34 382.08,500.25 Q381.65,500.16 381.25,500.01 Q380.85,499.86 380.47,499.64 Q380.09,499.41 379.82,499.05 Q379.56,498.70 379.34,498.30 Q379.12,497.90 379.16,497.45 Q379.20,497.00 379.26,496.57 Q379.33,496.15 379.48,495.75 Q379.64,495.35 379.88,494.98 Q380.11,494.61 380.48,494.38 Q380.85,494.14 381.22,493.89 Q381.60,493.64 382.05,493.61 Q382.50,493.58 382.96,493.58 Q383.42,493.58 383.79,493.85 Q384.17,494.11 384.58,494.31 Q384.99,494.51 385.20,494.92 Q385.40,495.32 385.63,495.71 Q385.86,496.10 385.86,496.55Z" fill="none" stroke="#52509a" stroke-width="2" opacity="0.9" filter="url(#bl0)"/>
</g>
<path d="M386.46,496.47 Q386.46,497.00 386.44,497.53 Q386.42,498.05 386.22,498.54 Q386.03,499.04 385.67,499.42 Q385.31,499.81 384.88,500.09 Q384.45,500.37 383.97,500.54 Q383.50,500.72 383.00,500.82 Q382.50,500.93 382.00,500.83 Q381.50,500.72 381.03,500.54 Q380.56,500.36 380.11,500.10 Q379.66,499.84 379.35,499.42 Q379.04,499.00 378.78,498.53 Q378.53,498.06 378.57,497.53 Q378.62,497.00 378.69,496.50 Q378.77,496.00 378.95,495.53 Q379.14,495.06 379.41,494.63 Q379.69,494.19 380.12,493.91 Q380.56,493.64 381.00,493.34 Q381.44,493.05 381.97,493.01 Q382.50,492.97 383.04,492.98 Q383.58,492.98 384.02,493.29 Q384.47,493.60 384.95,493.83 Q385.43,494.07 385.67,494.55 Q385.92,495.03 386.18,495.48 Q386.45,495.94 386.46,496.47Z" fill="none" stroke="#b2e0f4" stroke-width="0.8"/>
<clipPath id="c211"><path d="M428.47,475.28 Q428.53,476.00 428.47,476.73 Q428.41,477.45 428.00,478.05 Q427.58,478.64 427.29,479.33 Q427.01,480.01 426.39,480.41 Q425.78,480.81 425.11,481.10 Q424.44,481.38 423.72,481.51 Q423.00,481.65 422.30,481.45 Q421.59,481.25 420.89,481.06 Q420.18,480.88 419.62,480.41 Q419.06,479.94 418.72,479.31 Q418.38,478.67 417.99,478.06 Q417.60,477.45 417.53,476.72 Q417.46,476.00 417.50,475.27 Q417.55,474.54 417.83,473.86 Q418.11,473.18 418.59,472.62 Q419.06,472.06 419.64,471.63 Q420.23,471.20 420.88,470.85 Q421.53,470.51 422.26,470.57 Q423.00,470.64 423.69,470.74 Q424.39,470.83 425.08,471.00 Q425.78,471.18 426.36,471.62 Q426.94,472.06 427.44,472.60 Q427.94,473.15 428.17,473.85 Q428.40,474.55 428.47,475.28Z"/></clipPath>
<path d="M429.56,475.13 Q429.63,476.00 429.57,476.87 Q429.50,477.74 429.00,478.46 Q428.50,479.17 428.15,479.99 Q427.81,480.81 427.07,481.29 Q426.33,481.78 425.53,482.11 Q424.73,482.45 423.86,482.62 Q423.00,482.78 422.16,482.54 Q421.31,482.29 420.47,482.07 Q419.62,481.85 418.94,481.29 Q418.27,480.73 417.86,479.97 Q417.45,479.20 416.99,478.47 Q416.52,477.74 416.43,476.87 Q416.35,476.00 416.41,475.12 Q416.46,474.25 416.80,473.43 Q417.13,472.61 417.70,471.94 Q418.27,471.27 418.97,470.75 Q419.67,470.23 420.45,469.82 Q421.23,469.41 422.12,469.49 Q423.00,469.57 423.83,469.68 Q424.66,469.80 425.50,470.00 Q426.34,470.21 427.04,470.74 Q427.73,471.27 428.33,471.92 Q428.93,472.58 429.21,473.42 Q429.49,474.26 429.56,475.13Z" fill="#b2e0f4" filter="url(#bl0)"/>
<g clip-path="url(#c211)">
<path d="M428.47,475.28 Q428.53,476.00 428.47,476.73 Q428.41,477.45 428.00,478.05 Q427.58,478.64 427.29,479.33 Q427.01,480.01 426.39,480.41 Q425.78,480.81 425.11,481.10 Q424.44,481.38 423.72,481.51 Q423.00,481.65 422.30,481.45 Q421.59,481.25 420.89,481.06 Q420.18,480.88 419.62,480.41 Q419.06,479.94 418.72,479.31 Q418.38,478.67 417.99,478.06 Q417.60,477.45 417.53,476.72 Q417.46,476.00 417.50,475.27 Q417.55,474.54 417.83,473.86 Q418.11,473.18 418.59,472.62 Q419.06,472.06 419.64,471.63 Q420.23,471.20 420.88,470.85 Q421.53,470.51 422.26,470.57 Q423.00,470.64 423.69,470.74 Q424.39,470.83 425.08,471.00 Q425.78,471.18 426.36,471.62 Q426.94,472.06 427.44,472.60 Q427.94,473.15 428.17,473.85 Q428.40,474.55 428.47,475.28Z" fill="#8272b8"/>
<ellipse cx="423.00" cy="476.00" rx="4.40" ry="4.40" fill="#9a4c9e" opacity="0.36" filter="url(#bl1)"/>
<rect x="414.5" y="467.5" width="17.0" height="17.0" fill="#000" filter="url(#mot)" opacity="0.38"/>
<path d="M427.87,475.35 Q427.93,476.00 427.87,476.65 Q427.82,477.29 427.45,477.82 Q427.08,478.36 426.83,478.96 Q426.57,479.57 426.02,479.93 Q425.48,480.29 424.88,480.54 Q424.28,480.79 423.64,480.91 Q423.00,481.04 422.37,480.85 Q421.75,480.67 421.12,480.51 Q420.49,480.35 419.99,479.93 Q419.49,479.51 419.18,478.95 Q418.88,478.38 418.53,477.83 Q418.19,477.29 418.13,476.64 Q418.06,476.00 418.10,475.35 Q418.15,474.70 418.40,474.09 Q418.64,473.49 419.07,472.99 Q419.49,472.49 420.01,472.11 Q420.53,471.72 421.11,471.41 Q421.69,471.10 422.34,471.17 Q423.00,471.23 423.62,471.31 Q424.23,471.39 424.86,471.55 Q425.48,471.70 426.00,472.10 Q426.51,472.49 426.96,472.97 Q427.40,473.46 427.61,474.08 Q427.82,474.71 427.87,475.35Z" fill="none" stroke="#52509a" stroke-width="2" opacity="0.9" filter="url(#bl0)"/>
</g>
<path d="M428.47,475.28 Q428.53,476.00 428.47,476.73 Q428.41,477.45 428.00,478.05 Q427.58,478.64 427.29,479.33 Q427.01,480.01 426.39,480.41 Q425.78,480.81 425.11,481.10 Q424.44,481.38 423.72,481.51 Q423.00,481.65 422.30,481.45 Q421.59,481.25 420.89,481.06 Q420.18,480.88 419.62,480.41 Q419.06,479.94 418.72,479.31 Q418.38,478.67 417.99,478.06 Q417.60,477.45 417.53,476.72 Q417.46,476.00 417.50,475.27 Q417.55,474.54 417.83,473.86 Q418.11,473.18 418.59,472.62 Q419.06,472.06 419.64,471.63 Q420.23,471.20 420.88,470.85 Q421.53,470.51 422.26,470.57 Q423.00,470.64 423.69,470.74 Q424.39,470.83 425.08,471.00 Q425.78,471.18 426.36,471.62 Q426.94,472.06 427.44,472.60 Q427.94,473.15 428.17,473.85 Q428.40,474.55 428.47,475.28Z" fill="none" stroke="#b2e0f4" stroke-width="0.8"/>
</g>
</g></svg></body></html>
